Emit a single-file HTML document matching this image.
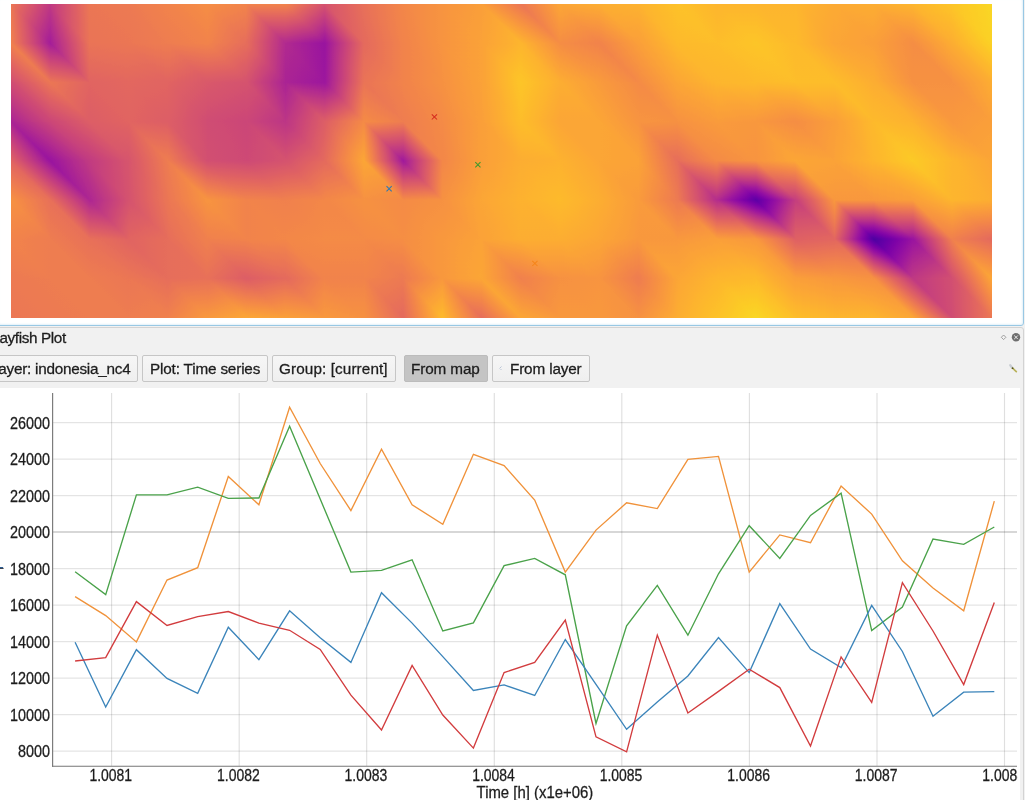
<!DOCTYPE html>
<html><head><meta charset="utf-8"><title>Crayfish Plot</title>
<style>
html,body{margin:0;padding:0;}
body{width:1025px;height:800px;overflow:hidden;background:#f1f1f1;font-family:"Liberation Sans",sans-serif;color:#1c1c1c;position:relative;}
#map{position:absolute;left:-3px;top:-3px;width:1025px;height:327px;background:#fff;border:1px solid #98c8e4;border-radius:3px;box-shadow:inset 0 0 2px 1px #e3f1f9;}
#heat{position:absolute;left:11px;top:4px;width:981px;height:314px;overflow:hidden;}
#dock{position:absolute;left:-3px;top:327px;width:1027px;height:480px;border:1px solid #d3d3d3;border-radius:3px;box-sizing:border-box;}
.tx{position:absolute;-webkit-text-stroke:0.28px #1c1c1c;font-size:15.3px;line-height:20px;white-space:nowrap;will-change:transform;}
.btn{position:absolute;top:355px;height:27px;box-sizing:border-box;border:1px solid #c6c6c6;border-radius:2px;background:linear-gradient(#f6f6f6,#efefef);}
.btn.on{background:#c4c4c4;border-color:#bcbcbc;}
#plot{position:absolute;left:0;top:388px;width:1020px;height:412px;background:#fff;}
svg{position:absolute;left:0;top:0;}
#ov{will-change:transform;}
.tl{font-size:16.1px;fill:#1c1c1c;stroke:#1c1c1c;stroke-width:0.28px;}
</style></head><body>
<div id="map"></div>
<div id="heat"><svg width="981" height="314" viewBox="0 0 981 314">
<defs><filter id="pl" x="0" y="0" width="1" height="1" color-interpolation-filters="sRGB"><feComponentTransfer><feFuncR type="table" tableValues="0.0510 0.1529 0.2549 0.3373 0.4157 0.4941 0.5608 0.6275 0.6941 0.7490 0.8000 0.8431 0.8824 0.9176 0.9490 0.9725 0.9882 0.9961 0.9882 0.9686 0.9412"/><feFuncG type="table" tableValues="0.0314 0.0196 0.0157 0.0039 0.0000 0.0118 0.0510 0.1020 0.1647 0.2235 0.2784 0.3373 0.3922 0.4549 0.5176 0.5843 0.6510 0.7294 0.8078 0.8863 0.9765"/><feFuncB type="table" tableValues="0.5294 0.5804 0.6157 0.6431 0.6588 0.6588 0.6431 0.6118 0.5647 0.5176 0.4706 0.4275 0.3843 0.3412 0.2941 0.2510 0.2118 0.1725 0.1451 0.1451 0.1294"/></feComponentTransfer></filter><linearGradient id="t0" gradientUnits="userSpaceOnUse" x1="39.22" y1="39.19" x2="-8.10" y2="18.89"><stop offset="0" stop-color="#5c5c5c"/><stop offset="1" stop-color="#a8a8a8"/></linearGradient><linearGradient id="t1" gradientUnits="userSpaceOnUse" x1="39.22" y1="39.19" x2="0.32" y2="42.73"><stop offset="0" stop-color="#5c5c5c"/><stop offset="1" stop-color="#b0b0b0"/></linearGradient><linearGradient id="t2" gradientUnits="userSpaceOnUse" x1="39.22" y1="0.00" x2="78.35" y2="-1.86"><stop offset="0" stop-color="#737373"/><stop offset="1" stop-color="#a8a8a8"/></linearGradient><linearGradient id="t3" gradientUnits="userSpaceOnUse" x1="39.22" y1="39.19" x2="74.99" y2="28.08"><stop offset="0" stop-color="#5c5c5c"/><stop offset="1" stop-color="#a6a6a6"/></linearGradient><linearGradient id="t4" gradientUnits="userSpaceOnUse" x1="78.44" y1="0.00" x2="98.03" y2="-19.61"><stop offset="0" stop-color="#a8a8a8"/><stop offset="1" stop-color="#ababab"/></linearGradient><linearGradient id="t5" gradientUnits="userSpaceOnUse" x1="78.44" y1="39.19" x2="98.03" y2="19.58"><stop offset="0" stop-color="#a6a6a6"/><stop offset="1" stop-color="#a8a8a8"/></linearGradient><linearGradient id="t6" gradientUnits="userSpaceOnUse" x1="117.66" y1="0.00" x2="144.80" y2="-18.11"><stop offset="0" stop-color="#ababab"/><stop offset="1" stop-color="#b2b2b2"/></linearGradient><linearGradient id="t7" gradientUnits="userSpaceOnUse" x1="117.66" y1="39.19" x2="149.03" y2="23.49"><stop offset="0" stop-color="#a8a8a8"/><stop offset="1" stop-color="#adadad"/></linearGradient><linearGradient id="t8" gradientUnits="userSpaceOnUse" x1="156.88" y1="0.00" x2="176.47" y2="-19.61"><stop offset="0" stop-color="#b2b2b2"/><stop offset="1" stop-color="#bababa"/></linearGradient><linearGradient id="t9" gradientUnits="userSpaceOnUse" x1="156.88" y1="39.19" x2="176.47" y2="19.58"><stop offset="0" stop-color="#adadad"/><stop offset="1" stop-color="#b2b2b2"/></linearGradient><linearGradient id="t10" gradientUnits="userSpaceOnUse" x1="235.32" y1="39.19" x2="215.06" y2="-8.12"><stop offset="0" stop-color="#a1a1a1"/><stop offset="1" stop-color="#bababa"/></linearGradient><linearGradient id="t11" gradientUnits="userSpaceOnUse" x1="235.32" y1="39.19" x2="188.00" y2="18.89"><stop offset="0" stop-color="#a1a1a1"/><stop offset="1" stop-color="#bababa"/></linearGradient><linearGradient id="t12" gradientUnits="userSpaceOnUse" x1="274.54" y1="39.19" x2="274.54" y2="0.00"><stop offset="0" stop-color="#666666"/><stop offset="1" stop-color="#b2b2b2"/></linearGradient><linearGradient id="t13" gradientUnits="userSpaceOnUse" x1="274.54" y1="39.19" x2="227.73" y2="24.93"><stop offset="0" stop-color="#666666"/><stop offset="1" stop-color="#b2b2b2"/></linearGradient><linearGradient id="t14" gradientUnits="userSpaceOnUse" x1="313.76" y1="39.19" x2="280.48" y2="-4.52"><stop offset="0" stop-color="#545454"/><stop offset="1" stop-color="#b2b2b2"/></linearGradient><linearGradient id="t15" gradientUnits="userSpaceOnUse" x1="313.76" y1="39.19" x2="303.07" y2="-6.65"><stop offset="0" stop-color="#545454"/><stop offset="1" stop-color="#b2b2b2"/></linearGradient><linearGradient id="t16" gradientUnits="userSpaceOnUse" x1="313.76" y1="0.00" x2="351.47" y2="-7.55"><stop offset="0" stop-color="#8a8a8a"/><stop offset="1" stop-color="#a3a3a3"/></linearGradient><linearGradient id="t17" gradientUnits="userSpaceOnUse" x1="313.76" y1="39.19" x2="339.47" y2="20.55"><stop offset="0" stop-color="#545454"/><stop offset="1" stop-color="#9e9e9e"/></linearGradient><linearGradient id="t18" gradientUnits="userSpaceOnUse" x1="352.98" y1="0.00" x2="391.41" y2="-5.50"><stop offset="0" stop-color="#a3a3a3"/><stop offset="1" stop-color="#b5b5b5"/></linearGradient><linearGradient id="t19" gradientUnits="userSpaceOnUse" x1="352.98" y1="39.19" x2="389.89" y2="29.95"><stop offset="0" stop-color="#9e9e9e"/><stop offset="1" stop-color="#b2b2b2"/></linearGradient><linearGradient id="t20" gradientUnits="userSpaceOnUse" x1="392.20" y1="0.00" x2="431.42" y2="0.00"><stop offset="0" stop-color="#b5b5b5"/><stop offset="1" stop-color="#bfbfbf"/></linearGradient><linearGradient id="t21" gradientUnits="userSpaceOnUse" x1="392.20" y1="39.19" x2="429.91" y2="31.64"><stop offset="0" stop-color="#b2b2b2"/><stop offset="1" stop-color="#bfbfbf"/></linearGradient><linearGradient id="t22" gradientUnits="userSpaceOnUse" x1="431.42" y1="0.00" x2="478.48" y2="15.70"><stop offset="0" stop-color="#bfbfbf"/><stop offset="1" stop-color="#c9c9c9"/></linearGradient><linearGradient id="t23" gradientUnits="userSpaceOnUse" x1="431.42" y1="0.00" x2="470.64" y2="0.00"><stop offset="0" stop-color="#bfbfbf"/><stop offset="1" stop-color="#c9c9c9"/></linearGradient><linearGradient id="t24" gradientUnits="userSpaceOnUse" x1="509.86" y1="0.00" x2="491.78" y2="27.14"><stop offset="0" stop-color="#a8a8a8"/><stop offset="1" stop-color="#d6d6d6"/></linearGradient><linearGradient id="t25" gradientUnits="userSpaceOnUse" x1="470.64" y1="0.00" x2="515.89" y2="9.06"><stop offset="0" stop-color="#c7c7c7"/><stop offset="1" stop-color="#d6d6d6"/></linearGradient><linearGradient id="t26" gradientUnits="userSpaceOnUse" x1="509.86" y1="0.00" x2="541.23" y2="-15.70"><stop offset="0" stop-color="#a8a8a8"/><stop offset="1" stop-color="#cccccc"/></linearGradient><linearGradient id="t27" gradientUnits="userSpaceOnUse" x1="509.86" y1="0.00" x2="492.43" y2="28.54"><stop offset="0" stop-color="#a8a8a8"/><stop offset="1" stop-color="#d6d6d6"/></linearGradient><linearGradient id="t28" gradientUnits="userSpaceOnUse" x1="588.30" y1="39.19" x2="594.65" y2="1.06"><stop offset="0" stop-color="#b2b2b2"/><stop offset="1" stop-color="#d1d1d1"/></linearGradient><linearGradient id="t29" gradientUnits="userSpaceOnUse" x1="588.30" y1="39.19" x2="568.04" y2="-8.12"><stop offset="0" stop-color="#b2b2b2"/><stop offset="1" stop-color="#cccccc"/></linearGradient><linearGradient id="t30" gradientUnits="userSpaceOnUse" x1="627.52" y1="39.19" x2="635.05" y2="1.50"><stop offset="0" stop-color="#c7c7c7"/><stop offset="1" stop-color="#d4d4d4"/></linearGradient><linearGradient id="t31" gradientUnits="userSpaceOnUse" x1="588.30" y1="39.19" x2="606.38" y2="12.04"><stop offset="0" stop-color="#b2b2b2"/><stop offset="1" stop-color="#d1d1d1"/></linearGradient><linearGradient id="t32" gradientUnits="userSpaceOnUse" x1="627.52" y1="0.00" x2="658.89" y2="-15.70"><stop offset="0" stop-color="#d4d4d4"/><stop offset="1" stop-color="#dedede"/></linearGradient><linearGradient id="t33" gradientUnits="userSpaceOnUse" x1="627.52" y1="39.19" x2="653.48" y2="20.63"><stop offset="0" stop-color="#c7c7c7"/><stop offset="1" stop-color="#d9d9d9"/></linearGradient><linearGradient id="t34" gradientUnits="userSpaceOnUse" x1="705.96" y1="0.00" x2="678.82" y2="18.11"><stop offset="0" stop-color="#d6d6d6"/><stop offset="1" stop-color="#dedede"/></linearGradient><linearGradient id="t35" gradientUnits="userSpaceOnUse" x1="666.74" y1="39.19" x2="682.41" y2="7.83"><stop offset="0" stop-color="#d9d9d9"/><stop offset="1" stop-color="#dedede"/></linearGradient><linearGradient id="t36" gradientUnits="userSpaceOnUse" x1="705.96" y1="0.00" x2="705.96" y2="39.19"><stop offset="0" stop-color="#d6d6d6"/><stop offset="1" stop-color="#e0e0e0"/></linearGradient><linearGradient id="t37" gradientUnits="userSpaceOnUse" x1="705.96" y1="0.00" x2="745.15" y2="39.22"><stop offset="0" stop-color="#d6d6d6"/><stop offset="1" stop-color="#e0e0e0"/></linearGradient><linearGradient id="t38" gradientUnits="userSpaceOnUse" x1="745.18" y1="0.00" x2="745.18" y2="39.19"><stop offset="0" stop-color="#d6d6d6"/><stop offset="1" stop-color="#d9d9d9"/></linearGradient><linearGradient id="t39" gradientUnits="userSpaceOnUse" x1="745.18" y1="0.00" x2="726.37" y2="25.09"><stop offset="0" stop-color="#d6d6d6"/><stop offset="1" stop-color="#e0e0e0"/></linearGradient><linearGradient id="t40" gradientUnits="userSpaceOnUse" x1="823.62" y1="39.19" x2="776.56" y2="23.49"><stop offset="0" stop-color="#cccccc"/><stop offset="1" stop-color="#d6d6d6"/></linearGradient><linearGradient id="t41" gradientUnits="userSpaceOnUse" x1="823.62" y1="39.19" x2="785.91" y2="46.74"><stop offset="0" stop-color="#cccccc"/><stop offset="1" stop-color="#d9d9d9"/></linearGradient><linearGradient id="t42" gradientUnits="userSpaceOnUse" x1="862.84" y1="39.19" x2="872.05" y2="2.30"><stop offset="0" stop-color="#c7c7c7"/><stop offset="1" stop-color="#d1d1d1"/></linearGradient><linearGradient id="t43" gradientUnits="userSpaceOnUse" x1="862.84" y1="39.19" x2="815.79" y2="15.64"><stop offset="0" stop-color="#c7c7c7"/><stop offset="1" stop-color="#cfcfcf"/></linearGradient><linearGradient id="t44" gradientUnits="userSpaceOnUse" x1="902.06" y1="39.19" x2="908.95" y2="1.25"><stop offset="0" stop-color="#bababa"/><stop offset="1" stop-color="#d6d6d6"/></linearGradient><linearGradient id="t45" gradientUnits="userSpaceOnUse" x1="902.06" y1="39.19" x2="859.04" y2="4.74"><stop offset="0" stop-color="#bababa"/><stop offset="1" stop-color="#d1d1d1"/></linearGradient><linearGradient id="t46" gradientUnits="userSpaceOnUse" x1="941.28" y1="39.19" x2="959.36" y2="12.04"><stop offset="0" stop-color="#d1d1d1"/><stop offset="1" stop-color="#e0e0e0"/></linearGradient><linearGradient id="t47" gradientUnits="userSpaceOnUse" x1="902.06" y1="39.19" x2="921.26" y2="15.70"><stop offset="0" stop-color="#bababa"/><stop offset="1" stop-color="#d6d6d6"/></linearGradient><linearGradient id="t48" gradientUnits="userSpaceOnUse" x1="941.28" y1="0.00" x2="978.19" y2="-9.23"><stop offset="0" stop-color="#e0e0e0"/><stop offset="1" stop-color="#ebebeb"/></linearGradient><linearGradient id="t49" gradientUnits="userSpaceOnUse" x1="941.28" y1="39.19" x2="968.42" y2="21.08"><stop offset="0" stop-color="#d1d1d1"/><stop offset="1" stop-color="#e8e8e8"/></linearGradient><linearGradient id="t50" gradientUnits="userSpaceOnUse" x1="39.22" y1="39.19" x2="17.76" y2="58.71"><stop offset="0" stop-color="#5c5c5c"/><stop offset="1" stop-color="#b0b0b0"/></linearGradient><linearGradient id="t51" gradientUnits="userSpaceOnUse" x1="0.00" y1="78.38" x2="19.23" y2="55.01"><stop offset="0" stop-color="#858585"/><stop offset="1" stop-color="#b0b0b0"/></linearGradient><linearGradient id="t52" gradientUnits="userSpaceOnUse" x1="39.22" y1="39.19" x2="77.31" y2="32.62"><stop offset="0" stop-color="#5c5c5c"/><stop offset="1" stop-color="#a6a6a6"/></linearGradient><linearGradient id="t53" gradientUnits="userSpaceOnUse" x1="39.22" y1="39.19" x2="31.69" y2="76.87"><stop offset="0" stop-color="#5c5c5c"/><stop offset="1" stop-color="#a8a8a8"/></linearGradient><linearGradient id="t54" gradientUnits="userSpaceOnUse" x1="117.66" y1="78.38" x2="125.19" y2="40.69"><stop offset="0" stop-color="#9c9c9c"/><stop offset="1" stop-color="#a8a8a8"/></linearGradient><linearGradient id="t55" gradientUnits="userSpaceOnUse" x1="78.44" y1="78.38" x2="85.97" y2="40.69"><stop offset="0" stop-color="#999999"/><stop offset="1" stop-color="#a6a6a6"/></linearGradient><linearGradient id="t56" gradientUnits="userSpaceOnUse" x1="156.88" y1="78.38" x2="166.09" y2="41.49"><stop offset="0" stop-color="#999999"/><stop offset="1" stop-color="#adadad"/></linearGradient><linearGradient id="t57" gradientUnits="userSpaceOnUse" x1="156.88" y1="78.38" x2="147.84" y2="33.16"><stop offset="0" stop-color="#999999"/><stop offset="1" stop-color="#a8a8a8"/></linearGradient><linearGradient id="t58" gradientUnits="userSpaceOnUse" x1="196.10" y1="78.38" x2="201.58" y2="39.97"><stop offset="0" stop-color="#8f8f8f"/><stop offset="1" stop-color="#b2b2b2"/></linearGradient><linearGradient id="t59" gradientUnits="userSpaceOnUse" x1="196.10" y1="78.38" x2="172.60" y2="31.33"><stop offset="0" stop-color="#8f8f8f"/><stop offset="1" stop-color="#adadad"/></linearGradient><linearGradient id="t60" gradientUnits="userSpaceOnUse" x1="235.32" y1="78.38" x2="201.57" y2="34.94"><stop offset="0" stop-color="#8a8a8a"/><stop offset="1" stop-color="#b2b2b2"/></linearGradient><linearGradient id="t61" gradientUnits="userSpaceOnUse" x1="235.32" y1="78.38" x2="229.05" y2="34.48"><stop offset="0" stop-color="#8a8a8a"/><stop offset="1" stop-color="#b2b2b2"/></linearGradient><linearGradient id="t62" gradientUnits="userSpaceOnUse" x1="274.54" y1="78.38" x2="232.23" y2="74.69"><stop offset="0" stop-color="#616161"/><stop offset="1" stop-color="#a1a1a1"/></linearGradient><linearGradient id="t63" gradientUnits="userSpaceOnUse" x1="274.54" y1="78.38" x2="228.01" y2="52.18"><stop offset="0" stop-color="#616161"/><stop offset="1" stop-color="#a1a1a1"/></linearGradient><linearGradient id="t64" gradientUnits="userSpaceOnUse" x1="313.76" y1="39.19" x2="275.33" y2="44.68"><stop offset="0" stop-color="#545454"/><stop offset="1" stop-color="#666666"/></linearGradient><linearGradient id="t65" gradientUnits="userSpaceOnUse" x1="313.76" y1="78.38" x2="266.71" y2="54.83"><stop offset="0" stop-color="#575757"/><stop offset="1" stop-color="#666666"/></linearGradient><linearGradient id="t66" gradientUnits="userSpaceOnUse" x1="313.76" y1="39.19" x2="356.58" y2="43.62"><stop offset="0" stop-color="#545454"/><stop offset="1" stop-color="#a6a6a6"/></linearGradient><linearGradient id="t67" gradientUnits="userSpaceOnUse" x1="313.76" y1="39.19" x2="354.20" y2="40.49"><stop offset="0" stop-color="#545454"/><stop offset="1" stop-color="#a6a6a6"/></linearGradient><linearGradient id="t68" gradientUnits="userSpaceOnUse" x1="352.98" y1="39.19" x2="392.20" y2="39.19"><stop offset="0" stop-color="#9e9e9e"/><stop offset="1" stop-color="#b2b2b2"/></linearGradient><linearGradient id="t69" gradientUnits="userSpaceOnUse" x1="352.98" y1="39.19" x2="399.10" y2="66.88"><stop offset="0" stop-color="#9e9e9e"/><stop offset="1" stop-color="#b2b2b2"/></linearGradient><linearGradient id="t70" gradientUnits="userSpaceOnUse" x1="392.20" y1="39.19" x2="429.91" y2="31.64"><stop offset="0" stop-color="#b2b2b2"/><stop offset="1" stop-color="#bfbfbf"/></linearGradient><linearGradient id="t71" gradientUnits="userSpaceOnUse" x1="392.20" y1="39.19" x2="431.42" y2="39.19"><stop offset="0" stop-color="#b2b2b2"/><stop offset="1" stop-color="#bdbdbd"/></linearGradient><linearGradient id="t72" gradientUnits="userSpaceOnUse" x1="431.42" y1="39.19" x2="470.64" y2="39.19"><stop offset="0" stop-color="#bfbfbf"/><stop offset="1" stop-color="#c9c9c9"/></linearGradient><linearGradient id="t73" gradientUnits="userSpaceOnUse" x1="431.42" y1="78.38" x2="469.13" y2="70.83"><stop offset="0" stop-color="#bdbdbd"/><stop offset="1" stop-color="#c9c9c9"/></linearGradient><linearGradient id="t74" gradientUnits="userSpaceOnUse" x1="470.64" y1="39.19" x2="513.66" y2="73.63"><stop offset="0" stop-color="#c9c9c9"/><stop offset="1" stop-color="#e0e0e0"/></linearGradient><linearGradient id="t75" gradientUnits="userSpaceOnUse" x1="470.64" y1="39.19" x2="509.86" y2="39.19"><stop offset="0" stop-color="#c9c9c9"/><stop offset="1" stop-color="#e0e0e0"/></linearGradient><linearGradient id="t76" gradientUnits="userSpaceOnUse" x1="549.08" y1="39.19" x2="525.60" y2="58.41"><stop offset="0" stop-color="#bababa"/><stop offset="1" stop-color="#d6d6d6"/></linearGradient><linearGradient id="t77" gradientUnits="userSpaceOnUse" x1="549.08" y1="78.38" x2="521.94" y2="96.48"><stop offset="0" stop-color="#d1d1d1"/><stop offset="1" stop-color="#e0e0e0"/></linearGradient><linearGradient id="t78" gradientUnits="userSpaceOnUse" x1="588.30" y1="39.19" x2="574.12" y2="72.30"><stop offset="0" stop-color="#b2b2b2"/><stop offset="1" stop-color="#c4c4c4"/></linearGradient><linearGradient id="t79" gradientUnits="userSpaceOnUse" x1="549.08" y1="39.19" x2="532.45" y2="69.14"><stop offset="0" stop-color="#bababa"/><stop offset="1" stop-color="#d1d1d1"/></linearGradient><linearGradient id="t80" gradientUnits="userSpaceOnUse" x1="588.30" y1="39.19" x2="613.39" y2="20.36"><stop offset="0" stop-color="#b2b2b2"/><stop offset="1" stop-color="#c7c7c7"/></linearGradient><linearGradient id="t81" gradientUnits="userSpaceOnUse" x1="588.30" y1="39.19" x2="569.77" y2="65.15"><stop offset="0" stop-color="#b2b2b2"/><stop offset="1" stop-color="#c4c4c4"/></linearGradient><linearGradient id="t82" gradientUnits="userSpaceOnUse" x1="627.52" y1="39.19" x2="653.48" y2="20.63"><stop offset="0" stop-color="#c7c7c7"/><stop offset="1" stop-color="#d9d9d9"/></linearGradient><linearGradient id="t83" gradientUnits="userSpaceOnUse" x1="627.52" y1="78.38" x2="652.61" y2="59.55"><stop offset="0" stop-color="#b8b8b8"/><stop offset="1" stop-color="#cccccc"/></linearGradient><linearGradient id="t84" gradientUnits="userSpaceOnUse" x1="705.96" y1="78.38" x2="721.63" y2="47.01"><stop offset="0" stop-color="#d6d6d6"/><stop offset="1" stop-color="#dbdbdb"/></linearGradient><linearGradient id="t85" gradientUnits="userSpaceOnUse" x1="666.74" y1="78.38" x2="685.85" y2="54.46"><stop offset="0" stop-color="#cccccc"/><stop offset="1" stop-color="#d9d9d9"/></linearGradient><linearGradient id="t86" gradientUnits="userSpaceOnUse" x1="745.18" y1="78.38" x2="763.26" y2="51.23"><stop offset="0" stop-color="#d9d9d9"/><stop offset="1" stop-color="#e0e0e0"/></linearGradient><linearGradient id="t87" gradientUnits="userSpaceOnUse" x1="705.96" y1="78.38" x2="721.63" y2="47.01"><stop offset="0" stop-color="#d6d6d6"/><stop offset="1" stop-color="#dbdbdb"/></linearGradient><linearGradient id="t88" gradientUnits="userSpaceOnUse" x1="784.40" y1="39.19" x2="749.11" y2="50.96"><stop offset="0" stop-color="#d9d9d9"/><stop offset="1" stop-color="#e0e0e0"/></linearGradient><linearGradient id="t89" gradientUnits="userSpaceOnUse" x1="745.18" y1="78.38" x2="756.93" y2="43.10"><stop offset="0" stop-color="#d9d9d9"/><stop offset="1" stop-color="#e0e0e0"/></linearGradient><linearGradient id="t90" gradientUnits="userSpaceOnUse" x1="823.62" y1="39.19" x2="804.35" y2="62.33"><stop offset="0" stop-color="#cccccc"/><stop offset="1" stop-color="#dbdbdb"/></linearGradient><linearGradient id="t91" gradientUnits="userSpaceOnUse" x1="784.40" y1="39.19" x2="784.40" y2="78.38"><stop offset="0" stop-color="#d9d9d9"/><stop offset="1" stop-color="#dbdbdb"/></linearGradient><linearGradient id="t92" gradientUnits="userSpaceOnUse" x1="862.84" y1="39.19" x2="847.17" y2="70.55"><stop offset="0" stop-color="#c7c7c7"/><stop offset="1" stop-color="#d1d1d1"/></linearGradient><linearGradient id="t93" gradientUnits="userSpaceOnUse" x1="823.62" y1="39.19" x2="805.54" y2="66.33"><stop offset="0" stop-color="#cccccc"/><stop offset="1" stop-color="#dbdbdb"/></linearGradient><linearGradient id="t94" gradientUnits="userSpaceOnUse" x1="902.06" y1="39.19" x2="864.35" y2="46.74"><stop offset="0" stop-color="#bababa"/><stop offset="1" stop-color="#c7c7c7"/></linearGradient><linearGradient id="t95" gradientUnits="userSpaceOnUse" x1="902.06" y1="78.38" x2="870.69" y2="94.07"><stop offset="0" stop-color="#bdbdbd"/><stop offset="1" stop-color="#d1d1d1"/></linearGradient><linearGradient id="t96" gradientUnits="userSpaceOnUse" x1="902.06" y1="39.19" x2="923.95" y2="19.71"><stop offset="0" stop-color="#bababa"/><stop offset="1" stop-color="#d1d1d1"/></linearGradient><linearGradient id="t97" gradientUnits="userSpaceOnUse" x1="902.06" y1="39.19" x2="902.06" y2="78.38"><stop offset="0" stop-color="#bababa"/><stop offset="1" stop-color="#bdbdbd"/></linearGradient><linearGradient id="t98" gradientUnits="userSpaceOnUse" x1="941.28" y1="39.19" x2="960.87" y2="19.58"><stop offset="0" stop-color="#d1d1d1"/><stop offset="1" stop-color="#e8e8e8"/></linearGradient><linearGradient id="t99" gradientUnits="userSpaceOnUse" x1="941.28" y1="78.38" x2="960.87" y2="58.77"><stop offset="0" stop-color="#bdbdbd"/><stop offset="1" stop-color="#d1d1d1"/></linearGradient><linearGradient id="t100" gradientUnits="userSpaceOnUse" x1="39.22" y1="117.56" x2="58.64" y2="95.35"><stop offset="0" stop-color="#7f7f7f"/><stop offset="1" stop-color="#a8a8a8"/></linearGradient><linearGradient id="t101" gradientUnits="userSpaceOnUse" x1="0.00" y1="117.56" x2="19.36" y2="94.96"><stop offset="0" stop-color="#616161"/><stop offset="1" stop-color="#858585"/></linearGradient><linearGradient id="t102" gradientUnits="userSpaceOnUse" x1="78.44" y1="117.56" x2="31.38" y2="101.86"><stop offset="0" stop-color="#949494"/><stop offset="1" stop-color="#a8a8a8"/></linearGradient><linearGradient id="t103" gradientUnits="userSpaceOnUse" x1="39.22" y1="117.56" x2="54.89" y2="86.20"><stop offset="0" stop-color="#7f7f7f"/><stop offset="1" stop-color="#a8a8a8"/></linearGradient><linearGradient id="t104" gradientUnits="userSpaceOnUse" x1="78.44" y1="78.38" x2="98.03" y2="58.77"><stop offset="0" stop-color="#999999"/><stop offset="1" stop-color="#9c9c9c"/></linearGradient><linearGradient id="t105" gradientUnits="userSpaceOnUse" x1="78.44" y1="117.56" x2="98.03" y2="97.95"><stop offset="0" stop-color="#949494"/><stop offset="1" stop-color="#999999"/></linearGradient><linearGradient id="t106" gradientUnits="userSpaceOnUse" x1="156.88" y1="117.56" x2="133.38" y2="70.52"><stop offset="0" stop-color="#949494"/><stop offset="1" stop-color="#9c9c9c"/></linearGradient><linearGradient id="t107" gradientUnits="userSpaceOnUse" x1="156.88" y1="117.56" x2="109.83" y2="94.02"><stop offset="0" stop-color="#949494"/><stop offset="1" stop-color="#9c9c9c"/></linearGradient><linearGradient id="t108" gradientUnits="userSpaceOnUse" x1="196.10" y1="117.56" x2="156.91" y2="78.34"><stop offset="0" stop-color="#858585"/><stop offset="1" stop-color="#999999"/></linearGradient><linearGradient id="t109" gradientUnits="userSpaceOnUse" x1="196.10" y1="117.56" x2="149.04" y2="101.86"><stop offset="0" stop-color="#858585"/><stop offset="1" stop-color="#999999"/></linearGradient><linearGradient id="t110" gradientUnits="userSpaceOnUse" x1="235.32" y1="117.56" x2="211.82" y2="70.52"><stop offset="0" stop-color="#7f7f7f"/><stop offset="1" stop-color="#8f8f8f"/></linearGradient><linearGradient id="t111" gradientUnits="userSpaceOnUse" x1="235.32" y1="117.56" x2="211.82" y2="70.52"><stop offset="0" stop-color="#7f7f7f"/><stop offset="1" stop-color="#8f8f8f"/></linearGradient><linearGradient id="t112" gradientUnits="userSpaceOnUse" x1="274.54" y1="78.38" x2="240.16" y2="91.28"><stop offset="0" stop-color="#616161"/><stop offset="1" stop-color="#8a8a8a"/></linearGradient><linearGradient id="t113" gradientUnits="userSpaceOnUse" x1="274.54" y1="117.56" x2="229.31" y2="87.38"><stop offset="0" stop-color="#707070"/><stop offset="1" stop-color="#8a8a8a"/></linearGradient><linearGradient id="t114" gradientUnits="userSpaceOnUse" x1="313.76" y1="78.38" x2="307.41" y2="116.51"><stop offset="0" stop-color="#575757"/><stop offset="1" stop-color="#949494"/></linearGradient><linearGradient id="t115" gradientUnits="userSpaceOnUse" x1="274.54" y1="78.38" x2="321.86" y2="98.67"><stop offset="0" stop-color="#616161"/><stop offset="1" stop-color="#949494"/></linearGradient><linearGradient id="t116" gradientUnits="userSpaceOnUse" x1="313.76" y1="78.38" x2="359.50" y2="88.71"><stop offset="0" stop-color="#575757"/><stop offset="1" stop-color="#b8b8b8"/></linearGradient><linearGradient id="t117" gradientUnits="userSpaceOnUse" x1="313.76" y1="78.38" x2="340.75" y2="124.69"><stop offset="0" stop-color="#575757"/><stop offset="1" stop-color="#b8b8b8"/></linearGradient><linearGradient id="t118" gradientUnits="userSpaceOnUse" x1="352.98" y1="78.38" x2="386.78" y2="64.84"><stop offset="0" stop-color="#a6a6a6"/><stop offset="1" stop-color="#b2b2b2"/></linearGradient><linearGradient id="t119" gradientUnits="userSpaceOnUse" x1="352.98" y1="78.38" x2="336.11" y2="107.93"><stop offset="0" stop-color="#a6a6a6"/><stop offset="1" stop-color="#b8b8b8"/></linearGradient><linearGradient id="t120" gradientUnits="userSpaceOnUse" x1="392.20" y1="78.38" x2="423.57" y2="62.68"><stop offset="0" stop-color="#b2b2b2"/><stop offset="1" stop-color="#bdbdbd"/></linearGradient><linearGradient id="t121" gradientUnits="userSpaceOnUse" x1="392.20" y1="117.56" x2="423.57" y2="101.87"><stop offset="0" stop-color="#adadad"/><stop offset="1" stop-color="#b8b8b8"/></linearGradient><linearGradient id="t122" gradientUnits="userSpaceOnUse" x1="431.42" y1="78.38" x2="469.13" y2="70.83"><stop offset="0" stop-color="#bdbdbd"/><stop offset="1" stop-color="#c9c9c9"/></linearGradient><linearGradient id="t123" gradientUnits="userSpaceOnUse" x1="431.42" y1="117.56" x2="466.71" y2="105.79"><stop offset="0" stop-color="#b8b8b8"/><stop offset="1" stop-color="#c7c7c7"/></linearGradient><linearGradient id="t124" gradientUnits="userSpaceOnUse" x1="470.64" y1="78.38" x2="508.01" y2="70.06"><stop offset="0" stop-color="#c9c9c9"/><stop offset="1" stop-color="#e0e0e0"/></linearGradient><linearGradient id="t125" gradientUnits="userSpaceOnUse" x1="470.64" y1="117.56" x2="509.26" y2="112.73"><stop offset="0" stop-color="#c7c7c7"/><stop offset="1" stop-color="#dbdbdb"/></linearGradient><linearGradient id="t126" gradientUnits="userSpaceOnUse" x1="549.08" y1="117.56" x2="502.02" y2="101.86"><stop offset="0" stop-color="#cccccc"/><stop offset="1" stop-color="#e0e0e0"/></linearGradient><linearGradient id="t127" gradientUnits="userSpaceOnUse" x1="549.08" y1="117.56" x2="502.02" y2="101.86"><stop offset="0" stop-color="#cccccc"/><stop offset="1" stop-color="#e0e0e0"/></linearGradient><linearGradient id="t128" gradientUnits="userSpaceOnUse" x1="588.30" y1="78.38" x2="559.47" y2="95.68"><stop offset="0" stop-color="#c4c4c4"/><stop offset="1" stop-color="#d1d1d1"/></linearGradient><linearGradient id="t129" gradientUnits="userSpaceOnUse" x1="549.08" y1="117.56" x2="549.08" y2="78.38"><stop offset="0" stop-color="#cccccc"/><stop offset="1" stop-color="#d1d1d1"/></linearGradient><linearGradient id="t130" gradientUnits="userSpaceOnUse" x1="627.52" y1="78.38" x2="598.69" y2="95.68"><stop offset="0" stop-color="#b8b8b8"/><stop offset="1" stop-color="#c4c4c4"/></linearGradient><linearGradient id="t131" gradientUnits="userSpaceOnUse" x1="627.52" y1="117.56" x2="598.69" y2="134.87"><stop offset="0" stop-color="#bfbfbf"/><stop offset="1" stop-color="#cccccc"/></linearGradient><linearGradient id="t132" gradientUnits="userSpaceOnUse" x1="627.52" y1="78.38" x2="652.61" y2="59.55"><stop offset="0" stop-color="#b8b8b8"/><stop offset="1" stop-color="#cccccc"/></linearGradient><linearGradient id="t133" gradientUnits="userSpaceOnUse" x1="627.52" y1="78.38" x2="615.77" y2="113.65"><stop offset="0" stop-color="#b8b8b8"/><stop offset="1" stop-color="#bfbfbf"/></linearGradient><linearGradient id="t134" gradientUnits="userSpaceOnUse" x1="705.96" y1="117.56" x2="722.83" y2="88.01"><stop offset="0" stop-color="#c4c4c4"/><stop offset="1" stop-color="#d6d6d6"/></linearGradient><linearGradient id="t135" gradientUnits="userSpaceOnUse" x1="666.74" y1="117.56" x2="682.41" y2="86.20"><stop offset="0" stop-color="#bdbdbd"/><stop offset="1" stop-color="#cccccc"/></linearGradient><linearGradient id="t136" gradientUnits="userSpaceOnUse" x1="745.18" y1="117.56" x2="749.48" y2="78.85"><stop offset="0" stop-color="#c2c2c2"/><stop offset="1" stop-color="#d9d9d9"/></linearGradient><linearGradient id="t137" gradientUnits="userSpaceOnUse" x1="745.18" y1="117.56" x2="738.91" y2="73.67"><stop offset="0" stop-color="#c2c2c2"/><stop offset="1" stop-color="#d6d6d6"/></linearGradient><linearGradient id="t138" gradientUnits="userSpaceOnUse" x1="784.40" y1="117.56" x2="787.39" y2="78.61"><stop offset="0" stop-color="#bababa"/><stop offset="1" stop-color="#dbdbdb"/></linearGradient><linearGradient id="t139" gradientUnits="userSpaceOnUse" x1="784.40" y1="117.56" x2="768.74" y2="70.53"><stop offset="0" stop-color="#bababa"/><stop offset="1" stop-color="#d9d9d9"/></linearGradient><linearGradient id="t140" gradientUnits="userSpaceOnUse" x1="823.62" y1="117.56" x2="823.62" y2="78.38"><stop offset="0" stop-color="#c7c7c7"/><stop offset="1" stop-color="#dbdbdb"/></linearGradient><linearGradient id="t141" gradientUnits="userSpaceOnUse" x1="784.40" y1="117.56" x2="797.52" y2="83.42"><stop offset="0" stop-color="#bababa"/><stop offset="1" stop-color="#dbdbdb"/></linearGradient><linearGradient id="t142" gradientUnits="userSpaceOnUse" x1="862.84" y1="78.38" x2="837.75" y2="97.20"><stop offset="0" stop-color="#d1d1d1"/><stop offset="1" stop-color="#dbdbdb"/></linearGradient><linearGradient id="t143" gradientUnits="userSpaceOnUse" x1="823.62" y1="117.56" x2="843.04" y2="95.35"><stop offset="0" stop-color="#c7c7c7"/><stop offset="1" stop-color="#dbdbdb"/></linearGradient><linearGradient id="t144" gradientUnits="userSpaceOnUse" x1="902.06" y1="78.38" x2="882.60" y2="100.28"><stop offset="0" stop-color="#bdbdbd"/><stop offset="1" stop-color="#d4d4d4"/></linearGradient><linearGradient id="t145" gradientUnits="userSpaceOnUse" x1="862.84" y1="78.38" x2="844.76" y2="105.52"><stop offset="0" stop-color="#d1d1d1"/><stop offset="1" stop-color="#d9d9d9"/></linearGradient><linearGradient id="t146" gradientUnits="userSpaceOnUse" x1="902.06" y1="78.38" x2="902.06" y2="117.56"><stop offset="0" stop-color="#bdbdbd"/><stop offset="1" stop-color="#c2c2c2"/></linearGradient><linearGradient id="t147" gradientUnits="userSpaceOnUse" x1="902.06" y1="78.38" x2="883.07" y2="102.81"><stop offset="0" stop-color="#bdbdbd"/><stop offset="1" stop-color="#d4d4d4"/></linearGradient><linearGradient id="t148" gradientUnits="userSpaceOnUse" x1="941.28" y1="78.38" x2="972.65" y2="62.68"><stop offset="0" stop-color="#bdbdbd"/><stop offset="1" stop-color="#d1d1d1"/></linearGradient><linearGradient id="t149" gradientUnits="userSpaceOnUse" x1="941.28" y1="78.38" x2="980.47" y2="117.59"><stop offset="0" stop-color="#bdbdbd"/><stop offset="1" stop-color="#c7c7c7"/></linearGradient><linearGradient id="t150" gradientUnits="userSpaceOnUse" x1="39.22" y1="156.75" x2="57.68" y2="130.58"><stop offset="0" stop-color="#545454"/><stop offset="1" stop-color="#7f7f7f"/></linearGradient><linearGradient id="t151" gradientUnits="userSpaceOnUse" x1="39.22" y1="156.75" x2="15.66" y2="175.96"><stop offset="0" stop-color="#545454"/><stop offset="1" stop-color="#999999"/></linearGradient><linearGradient id="t152" gradientUnits="userSpaceOnUse" x1="78.44" y1="156.75" x2="96.52" y2="129.61"><stop offset="0" stop-color="#757575"/><stop offset="1" stop-color="#949494"/></linearGradient><linearGradient id="t153" gradientUnits="userSpaceOnUse" x1="39.22" y1="156.75" x2="58.13" y2="132.01"><stop offset="0" stop-color="#545454"/><stop offset="1" stop-color="#7f7f7f"/></linearGradient><linearGradient id="t154" gradientUnits="userSpaceOnUse" x1="117.66" y1="156.75" x2="131.16" y2="122.96"><stop offset="0" stop-color="#8c8c8c"/><stop offset="1" stop-color="#999999"/></linearGradient><linearGradient id="t155" gradientUnits="userSpaceOnUse" x1="78.44" y1="156.75" x2="97.25" y2="131.66"><stop offset="0" stop-color="#757575"/><stop offset="1" stop-color="#949494"/></linearGradient><linearGradient id="t156" gradientUnits="userSpaceOnUse" x1="156.88" y1="117.56" x2="149.35" y2="155.25"><stop offset="0" stop-color="#949494"/><stop offset="1" stop-color="#adadad"/></linearGradient><linearGradient id="t157" gradientUnits="userSpaceOnUse" x1="117.66" y1="156.75" x2="151.82" y2="143.60"><stop offset="0" stop-color="#8c8c8c"/><stop offset="1" stop-color="#adadad"/></linearGradient><linearGradient id="t158" gradientUnits="userSpaceOnUse" x1="196.10" y1="117.56" x2="157.94" y2="123.93"><stop offset="0" stop-color="#858585"/><stop offset="1" stop-color="#949494"/></linearGradient><linearGradient id="t159" gradientUnits="userSpaceOnUse" x1="196.10" y1="156.75" x2="168.96" y2="174.86"><stop offset="0" stop-color="#878787"/><stop offset="1" stop-color="#adadad"/></linearGradient><linearGradient id="t160" gradientUnits="userSpaceOnUse" x1="235.32" y1="117.56" x2="203.95" y2="133.26"><stop offset="0" stop-color="#7f7f7f"/><stop offset="1" stop-color="#858585"/></linearGradient><linearGradient id="t161" gradientUnits="userSpaceOnUse" x1="235.32" y1="156.75" x2="203.95" y2="172.45"><stop offset="0" stop-color="#828282"/><stop offset="1" stop-color="#878787"/></linearGradient><linearGradient id="t162" gradientUnits="userSpaceOnUse" x1="274.54" y1="117.56" x2="257.26" y2="146.39"><stop offset="0" stop-color="#707070"/><stop offset="1" stop-color="#8a8a8a"/></linearGradient><linearGradient id="t163" gradientUnits="userSpaceOnUse" x1="235.32" y1="117.56" x2="282.38" y2="133.26"><stop offset="0" stop-color="#7f7f7f"/><stop offset="1" stop-color="#8a8a8a"/></linearGradient><linearGradient id="t164" gradientUnits="userSpaceOnUse" x1="274.54" y1="117.56" x2="321.15" y2="130.89"><stop offset="0" stop-color="#707070"/><stop offset="1" stop-color="#9e9e9e"/></linearGradient><linearGradient id="t165" gradientUnits="userSpaceOnUse" x1="274.54" y1="117.56" x2="308.94" y2="160.60"><stop offset="0" stop-color="#707070"/><stop offset="1" stop-color="#9e9e9e"/></linearGradient><linearGradient id="t166" gradientUnits="userSpaceOnUse" x1="313.76" y1="117.56" x2="360.20" y2="144.12"><stop offset="0" stop-color="#949494"/><stop offset="1" stop-color="#cccccc"/></linearGradient><linearGradient id="t167" gradientUnits="userSpaceOnUse" x1="313.76" y1="117.56" x2="359.44" y2="127.72"><stop offset="0" stop-color="#949494"/><stop offset="1" stop-color="#cccccc"/></linearGradient><linearGradient id="t168" gradientUnits="userSpaceOnUse" x1="392.20" y1="156.75" x2="386.96" y2="113.45"><stop offset="0" stop-color="#595959"/><stop offset="1" stop-color="#b8b8b8"/></linearGradient><linearGradient id="t169" gradientUnits="userSpaceOnUse" x1="392.20" y1="156.75" x2="354.18" y2="163.51"><stop offset="0" stop-color="#595959"/><stop offset="1" stop-color="#cccccc"/></linearGradient><linearGradient id="t170" gradientUnits="userSpaceOnUse" x1="392.20" y1="117.56" x2="429.11" y2="108.33"><stop offset="0" stop-color="#adadad"/><stop offset="1" stop-color="#b8b8b8"/></linearGradient><linearGradient id="t171" gradientUnits="userSpaceOnUse" x1="392.20" y1="156.75" x2="413.50" y2="137.21"><stop offset="0" stop-color="#595959"/><stop offset="1" stop-color="#b5b5b5"/></linearGradient><linearGradient id="t172" gradientUnits="userSpaceOnUse" x1="431.42" y1="117.56" x2="470.64" y2="117.56"><stop offset="0" stop-color="#b8b8b8"/><stop offset="1" stop-color="#c7c7c7"/></linearGradient><linearGradient id="t173" gradientUnits="userSpaceOnUse" x1="431.42" y1="156.75" x2="469.85" y2="151.25"><stop offset="0" stop-color="#b5b5b5"/><stop offset="1" stop-color="#c7c7c7"/></linearGradient><linearGradient id="t174" gradientUnits="userSpaceOnUse" x1="470.64" y1="117.56" x2="502.01" y2="101.87"><stop offset="0" stop-color="#c7c7c7"/><stop offset="1" stop-color="#dbdbdb"/></linearGradient><linearGradient id="t175" gradientUnits="userSpaceOnUse" x1="470.64" y1="117.56" x2="509.86" y2="117.56"><stop offset="0" stop-color="#c7c7c7"/><stop offset="1" stop-color="#d1d1d1"/></linearGradient><linearGradient id="t176" gradientUnits="userSpaceOnUse" x1="549.08" y1="117.56" x2="517.71" y2="133.26"><stop offset="0" stop-color="#cccccc"/><stop offset="1" stop-color="#dbdbdb"/></linearGradient><linearGradient id="t177" gradientUnits="userSpaceOnUse" x1="509.86" y1="156.75" x2="519.07" y2="119.86"><stop offset="0" stop-color="#d1d1d1"/><stop offset="1" stop-color="#dbdbdb"/></linearGradient><linearGradient id="t179" gradientUnits="userSpaceOnUse" x1="549.08" y1="117.56" x2="529.49" y2="137.17"><stop offset="0" stop-color="#cccccc"/><stop offset="1" stop-color="#d4d4d4"/></linearGradient><linearGradient id="t180" gradientUnits="userSpaceOnUse" x1="627.52" y1="117.56" x2="603.62" y2="136.70"><stop offset="0" stop-color="#bfbfbf"/><stop offset="1" stop-color="#cccccc"/></linearGradient><linearGradient id="t181" gradientUnits="userSpaceOnUse" x1="627.52" y1="156.75" x2="588.30" y2="156.75"><stop offset="0" stop-color="#c9c9c9"/><stop offset="1" stop-color="#cccccc"/></linearGradient><linearGradient id="t182" gradientUnits="userSpaceOnUse" x1="666.74" y1="156.75" x2="662.89" y2="114.35"><stop offset="0" stop-color="#a1a1a1"/><stop offset="1" stop-color="#bfbfbf"/></linearGradient><linearGradient id="t183" gradientUnits="userSpaceOnUse" x1="666.74" y1="156.75" x2="629.83" y2="165.98"><stop offset="0" stop-color="#a1a1a1"/><stop offset="1" stop-color="#c9c9c9"/></linearGradient><linearGradient id="t184" gradientUnits="userSpaceOnUse" x1="705.96" y1="156.75" x2="723.24" y2="127.92"><stop offset="0" stop-color="#b8b8b8"/><stop offset="1" stop-color="#c4c4c4"/></linearGradient><linearGradient id="t185" gradientUnits="userSpaceOnUse" x1="666.74" y1="156.75" x2="685.94" y2="133.26"><stop offset="0" stop-color="#a1a1a1"/><stop offset="1" stop-color="#bdbdbd"/></linearGradient><linearGradient id="t186" gradientUnits="userSpaceOnUse" x1="745.18" y1="156.75" x2="705.99" y2="117.53"><stop offset="0" stop-color="#bfbfbf"/><stop offset="1" stop-color="#c4c4c4"/></linearGradient><linearGradient id="t187" gradientUnits="userSpaceOnUse" x1="705.96" y1="156.75" x2="723.24" y2="127.92"><stop offset="0" stop-color="#b8b8b8"/><stop offset="1" stop-color="#c4c4c4"/></linearGradient><linearGradient id="t188" gradientUnits="userSpaceOnUse" x1="784.40" y1="117.56" x2="770.22" y2="150.68"><stop offset="0" stop-color="#bababa"/><stop offset="1" stop-color="#cccccc"/></linearGradient><linearGradient id="t189" gradientUnits="userSpaceOnUse" x1="745.18" y1="156.75" x2="782.89" y2="149.20"><stop offset="0" stop-color="#bfbfbf"/><stop offset="1" stop-color="#cccccc"/></linearGradient><linearGradient id="t190" gradientUnits="userSpaceOnUse" x1="784.40" y1="117.56" x2="829.65" y2="126.62"><stop offset="0" stop-color="#bababa"/><stop offset="1" stop-color="#c9c9c9"/></linearGradient><linearGradient id="t191" gradientUnits="userSpaceOnUse" x1="784.40" y1="117.56" x2="778.92" y2="155.97"><stop offset="0" stop-color="#bababa"/><stop offset="1" stop-color="#cccccc"/></linearGradient><linearGradient id="t192" gradientUnits="userSpaceOnUse" x1="823.62" y1="117.56" x2="862.05" y2="112.07"><stop offset="0" stop-color="#c7c7c7"/><stop offset="1" stop-color="#d9d9d9"/></linearGradient><linearGradient id="t193" gradientUnits="userSpaceOnUse" x1="823.62" y1="117.56" x2="868.87" y2="126.62"><stop offset="0" stop-color="#c7c7c7"/><stop offset="1" stop-color="#d6d6d6"/></linearGradient><linearGradient id="t194" gradientUnits="userSpaceOnUse" x1="902.06" y1="117.56" x2="890.31" y2="152.84"><stop offset="0" stop-color="#d4d4d4"/><stop offset="1" stop-color="#e3e3e3"/></linearGradient><linearGradient id="t195" gradientUnits="userSpaceOnUse" x1="862.84" y1="156.75" x2="900.55" y2="149.20"><stop offset="0" stop-color="#d6d6d6"/><stop offset="1" stop-color="#e3e3e3"/></linearGradient><linearGradient id="t196" gradientUnits="userSpaceOnUse" x1="941.28" y1="117.56" x2="921.86" y2="139.77"><stop offset="0" stop-color="#c2c2c2"/><stop offset="1" stop-color="#d6d6d6"/></linearGradient><linearGradient id="t197" gradientUnits="userSpaceOnUse" x1="902.06" y1="117.56" x2="882.79" y2="140.71"><stop offset="0" stop-color="#d4d4d4"/><stop offset="1" stop-color="#e3e3e3"/></linearGradient><linearGradient id="t198" gradientUnits="userSpaceOnUse" x1="941.28" y1="117.56" x2="980.47" y2="156.78"><stop offset="0" stop-color="#c2c2c2"/><stop offset="1" stop-color="#cccccc"/></linearGradient><linearGradient id="t199" gradientUnits="userSpaceOnUse" x1="941.28" y1="117.56" x2="925.61" y2="148.92"><stop offset="0" stop-color="#c2c2c2"/><stop offset="1" stop-color="#d6d6d6"/></linearGradient><linearGradient id="t200" gradientUnits="userSpaceOnUse" x1="39.22" y1="156.75" x2="19.81" y2="179.05"><stop offset="0" stop-color="#545454"/><stop offset="1" stop-color="#a3a3a3"/></linearGradient><linearGradient id="t201" gradientUnits="userSpaceOnUse" x1="0.00" y1="156.75" x2="-18.53" y2="182.71"><stop offset="0" stop-color="#999999"/><stop offset="1" stop-color="#bdbdbd"/></linearGradient><linearGradient id="t202" gradientUnits="userSpaceOnUse" x1="39.22" y1="156.75" x2="69.61" y2="140.37"><stop offset="0" stop-color="#545454"/><stop offset="1" stop-color="#757575"/></linearGradient><linearGradient id="t203" gradientUnits="userSpaceOnUse" x1="39.22" y1="156.75" x2="20.07" y2="180.51"><stop offset="0" stop-color="#545454"/><stop offset="1" stop-color="#a3a3a3"/></linearGradient><linearGradient id="t204" gradientUnits="userSpaceOnUse" x1="78.44" y1="156.75" x2="117.18" y2="152.44"><stop offset="0" stop-color="#757575"/><stop offset="1" stop-color="#8c8c8c"/></linearGradient><linearGradient id="t205" gradientUnits="userSpaceOnUse" x1="78.44" y1="195.94" x2="110.64" y2="180.90"><stop offset="0" stop-color="#636363"/><stop offset="1" stop-color="#8a8a8a"/></linearGradient><linearGradient id="t206" gradientUnits="userSpaceOnUse" x1="117.66" y1="156.75" x2="155.97" y2="150.85"><stop offset="0" stop-color="#8c8c8c"/><stop offset="1" stop-color="#adadad"/></linearGradient><linearGradient id="t207" gradientUnits="userSpaceOnUse" x1="117.66" y1="195.94" x2="156.61" y2="192.69"><stop offset="0" stop-color="#8a8a8a"/><stop offset="1" stop-color="#a8a8a8"/></linearGradient><linearGradient id="t208" gradientUnits="userSpaceOnUse" x1="196.10" y1="156.75" x2="177.87" y2="183.52"><stop offset="0" stop-color="#878787"/><stop offset="1" stop-color="#bfbfbf"/></linearGradient><linearGradient id="t209" gradientUnits="userSpaceOnUse" x1="156.88" y1="195.94" x2="194.25" y2="187.63"><stop offset="0" stop-color="#a8a8a8"/><stop offset="1" stop-color="#bfbfbf"/></linearGradient><linearGradient id="t210" gradientUnits="userSpaceOnUse" x1="235.32" y1="156.75" x2="231.24" y2="195.51"><stop offset="0" stop-color="#828282"/><stop offset="1" stop-color="#b2b2b2"/></linearGradient><linearGradient id="t211" gradientUnits="userSpaceOnUse" x1="196.10" y1="156.75" x2="187.64" y2="194.02"><stop offset="0" stop-color="#878787"/><stop offset="1" stop-color="#bfbfbf"/></linearGradient><linearGradient id="t212" gradientUnits="userSpaceOnUse" x1="235.32" y1="156.75" x2="244.36" y2="201.97"><stop offset="0" stop-color="#828282"/><stop offset="1" stop-color="#b0b0b0"/></linearGradient><linearGradient id="t213" gradientUnits="userSpaceOnUse" x1="235.32" y1="156.75" x2="233.26" y2="195.83"><stop offset="0" stop-color="#828282"/><stop offset="1" stop-color="#b2b2b2"/></linearGradient><linearGradient id="t214" gradientUnits="userSpaceOnUse" x1="274.54" y1="156.75" x2="311.29" y2="198.13"><stop offset="0" stop-color="#8a8a8a"/><stop offset="1" stop-color="#b5b5b5"/></linearGradient><linearGradient id="t215" gradientUnits="userSpaceOnUse" x1="274.54" y1="156.75" x2="280.35" y2="200.39"><stop offset="0" stop-color="#8a8a8a"/><stop offset="1" stop-color="#b5b5b5"/></linearGradient><linearGradient id="t216" gradientUnits="userSpaceOnUse" x1="313.76" y1="156.75" x2="349.05" y2="144.98"><stop offset="0" stop-color="#9e9e9e"/><stop offset="1" stop-color="#cccccc"/></linearGradient><linearGradient id="t217" gradientUnits="userSpaceOnUse" x1="313.76" y1="156.75" x2="329.42" y2="203.78"><stop offset="0" stop-color="#9e9e9e"/><stop offset="1" stop-color="#bdbdbd"/></linearGradient><linearGradient id="t218" gradientUnits="userSpaceOnUse" x1="392.20" y1="156.75" x2="368.82" y2="175.99"><stop offset="0" stop-color="#595959"/><stop offset="1" stop-color="#cccccc"/></linearGradient><linearGradient id="t219" gradientUnits="userSpaceOnUse" x1="392.20" y1="195.94" x2="376.54" y2="148.90"><stop offset="0" stop-color="#b8b8b8"/><stop offset="1" stop-color="#cccccc"/></linearGradient><linearGradient id="t220" gradientUnits="userSpaceOnUse" x1="392.20" y1="156.75" x2="434.39" y2="160.27"><stop offset="0" stop-color="#595959"/><stop offset="1" stop-color="#bdbdbd"/></linearGradient><linearGradient id="t221" gradientUnits="userSpaceOnUse" x1="392.20" y1="156.75" x2="394.42" y2="197.94"><stop offset="0" stop-color="#595959"/><stop offset="1" stop-color="#bdbdbd"/></linearGradient><linearGradient id="t222" gradientUnits="userSpaceOnUse" x1="431.42" y1="156.75" x2="478.03" y2="170.08"><stop offset="0" stop-color="#b5b5b5"/><stop offset="1" stop-color="#cccccc"/></linearGradient><linearGradient id="t223" gradientUnits="userSpaceOnUse" x1="431.42" y1="156.75" x2="478.47" y2="180.29"><stop offset="0" stop-color="#b5b5b5"/><stop offset="1" stop-color="#cccccc"/></linearGradient><linearGradient id="t224" gradientUnits="userSpaceOnUse" x1="470.64" y1="156.75" x2="516.78" y2="168.29"><stop offset="0" stop-color="#c7c7c7"/><stop offset="1" stop-color="#d4d4d4"/></linearGradient><linearGradient id="t225" gradientUnits="userSpaceOnUse" x1="470.64" y1="156.75" x2="515.87" y2="186.93"><stop offset="0" stop-color="#c7c7c7"/><stop offset="1" stop-color="#d4d4d4"/></linearGradient><linearGradient id="t226" gradientUnits="userSpaceOnUse" x1="509.86" y1="156.75" x2="533.36" y2="203.79"><stop offset="0" stop-color="#d1d1d1"/><stop offset="1" stop-color="#d9d9d9"/></linearGradient><linearGradient id="t227" gradientUnits="userSpaceOnUse" x1="509.86" y1="156.75" x2="556.91" y2="180.29"><stop offset="0" stop-color="#d1d1d1"/><stop offset="1" stop-color="#d9d9d9"/></linearGradient><linearGradient id="t228" gradientUnits="userSpaceOnUse" x1="588.30" y1="156.75" x2="561.16" y2="174.86"><stop offset="0" stop-color="#cccccc"/><stop offset="1" stop-color="#d4d4d4"/></linearGradient><linearGradient id="t229" gradientUnits="userSpaceOnUse" x1="588.30" y1="195.94" x2="561.16" y2="214.04"><stop offset="0" stop-color="#d1d1d1"/><stop offset="1" stop-color="#d9d9d9"/></linearGradient><linearGradient id="t230" gradientUnits="userSpaceOnUse" x1="627.52" y1="195.94" x2="604.02" y2="148.90"><stop offset="0" stop-color="#c4c4c4"/><stop offset="1" stop-color="#cccccc"/></linearGradient><linearGradient id="t231" gradientUnits="userSpaceOnUse" x1="627.52" y1="195.94" x2="593.72" y2="209.47"><stop offset="0" stop-color="#c4c4c4"/><stop offset="1" stop-color="#d1d1d1"/></linearGradient><linearGradient id="t232" gradientUnits="userSpaceOnUse" x1="666.74" y1="156.75" x2="629.83" y2="165.98"><stop offset="0" stop-color="#a1a1a1"/><stop offset="1" stop-color="#c9c9c9"/></linearGradient><linearGradient id="t233" gradientUnits="userSpaceOnUse" x1="666.74" y1="195.94" x2="621.49" y2="186.88"><stop offset="0" stop-color="#ababab"/><stop offset="1" stop-color="#c9c9c9"/></linearGradient><linearGradient id="t234" gradientUnits="userSpaceOnUse" x1="705.96" y1="195.94" x2="716.45" y2="159.79"><stop offset="0" stop-color="#696969"/><stop offset="1" stop-color="#b8b8b8"/></linearGradient><linearGradient id="t235" gradientUnits="userSpaceOnUse" x1="705.96" y1="195.94" x2="667.65" y2="201.84"><stop offset="0" stop-color="#696969"/><stop offset="1" stop-color="#ababab"/></linearGradient><linearGradient id="t236" gradientUnits="userSpaceOnUse" x1="745.18" y1="195.94" x2="747.20" y2="156.85"><stop offset="0" stop-color="#2b2b2b"/><stop offset="1" stop-color="#bfbfbf"/></linearGradient><linearGradient id="t237" gradientUnits="userSpaceOnUse" x1="745.18" y1="195.94" x2="711.53" y2="152.44"><stop offset="0" stop-color="#2b2b2b"/><stop offset="1" stop-color="#b8b8b8"/></linearGradient><linearGradient id="t238" gradientUnits="userSpaceOnUse" x1="784.40" y1="195.94" x2="790.20" y2="157.63"><stop offset="0" stop-color="#787878"/><stop offset="1" stop-color="#cccccc"/></linearGradient><linearGradient id="t239" gradientUnits="userSpaceOnUse" x1="745.18" y1="195.94" x2="761.16" y2="165.01"><stop offset="0" stop-color="#2b2b2b"/><stop offset="1" stop-color="#bfbfbf"/></linearGradient><linearGradient id="t240" gradientUnits="userSpaceOnUse" x1="823.62" y1="195.94" x2="807.96" y2="148.90"><stop offset="0" stop-color="#c2c2c2"/><stop offset="1" stop-color="#cccccc"/></linearGradient><linearGradient id="t241" gradientUnits="userSpaceOnUse" x1="784.40" y1="195.94" x2="803.83" y2="173.81"><stop offset="0" stop-color="#787878"/><stop offset="1" stop-color="#cccccc"/></linearGradient><linearGradient id="t242" gradientUnits="userSpaceOnUse" x1="862.84" y1="195.94" x2="880.45" y2="167.74"><stop offset="0" stop-color="#c2c2c2"/><stop offset="1" stop-color="#d6d6d6"/></linearGradient><linearGradient id="t243" gradientUnits="userSpaceOnUse" x1="823.62" y1="195.94" x2="823.62" y2="156.75"><stop offset="0" stop-color="#c2c2c2"/><stop offset="1" stop-color="#c9c9c9"/></linearGradient><linearGradient id="t244" gradientUnits="userSpaceOnUse" x1="902.06" y1="195.94" x2="916.81" y2="163.45"><stop offset="0" stop-color="#c7c7c7"/><stop offset="1" stop-color="#e3e3e3"/></linearGradient><linearGradient id="t245" gradientUnits="userSpaceOnUse" x1="862.84" y1="195.94" x2="872.05" y2="159.05"><stop offset="0" stop-color="#c2c2c2"/><stop offset="1" stop-color="#d6d6d6"/></linearGradient><linearGradient id="t246" gradientUnits="userSpaceOnUse" x1="941.28" y1="156.75" x2="902.06" y2="156.75"><stop offset="0" stop-color="#d6d6d6"/><stop offset="1" stop-color="#e3e3e3"/></linearGradient><linearGradient id="t247" gradientUnits="userSpaceOnUse" x1="902.06" y1="195.94" x2="918.53" y2="165.72"><stop offset="0" stop-color="#c7c7c7"/><stop offset="1" stop-color="#e3e3e3"/></linearGradient><linearGradient id="t248" gradientUnits="userSpaceOnUse" x1="980.50" y1="156.75" x2="949.13" y2="172.45"><stop offset="0" stop-color="#cccccc"/><stop offset="1" stop-color="#d6d6d6"/></linearGradient><linearGradient id="t249" gradientUnits="userSpaceOnUse" x1="980.50" y1="195.94" x2="941.28" y2="195.94"><stop offset="0" stop-color="#d1d1d1"/><stop offset="1" stop-color="#d6d6d6"/></linearGradient><linearGradient id="t250" gradientUnits="userSpaceOnUse" x1="39.22" y1="195.94" x2="5.42" y2="209.47"><stop offset="0" stop-color="#a3a3a3"/><stop offset="1" stop-color="#bdbdbd"/></linearGradient><linearGradient id="t251" gradientUnits="userSpaceOnUse" x1="39.22" y1="235.12" x2="15.72" y2="188.08"><stop offset="0" stop-color="#adadad"/><stop offset="1" stop-color="#bdbdbd"/></linearGradient><linearGradient id="t252" gradientUnits="userSpaceOnUse" x1="78.44" y1="195.94" x2="58.85" y2="215.55"><stop offset="0" stop-color="#636363"/><stop offset="1" stop-color="#a3a3a3"/></linearGradient><linearGradient id="t253" gradientUnits="userSpaceOnUse" x1="39.22" y1="195.94" x2="19.63" y2="215.55"><stop offset="0" stop-color="#a3a3a3"/><stop offset="1" stop-color="#adadad"/></linearGradient><linearGradient id="t254" gradientUnits="userSpaceOnUse" x1="78.44" y1="195.94" x2="125.76" y2="214.88"><stop offset="0" stop-color="#636363"/><stop offset="1" stop-color="#999999"/></linearGradient><linearGradient id="t255" gradientUnits="userSpaceOnUse" x1="78.44" y1="195.94" x2="72.33" y2="234.15"><stop offset="0" stop-color="#636363"/><stop offset="1" stop-color="#a3a3a3"/></linearGradient><linearGradient id="t256" gradientUnits="userSpaceOnUse" x1="117.66" y1="195.94" x2="154.57" y2="186.70"><stop offset="0" stop-color="#8a8a8a"/><stop offset="1" stop-color="#a8a8a8"/></linearGradient><linearGradient id="t257" gradientUnits="userSpaceOnUse" x1="117.66" y1="195.94" x2="141.16" y2="242.98"><stop offset="0" stop-color="#8a8a8a"/><stop offset="1" stop-color="#a1a1a1"/></linearGradient><linearGradient id="t258" gradientUnits="userSpaceOnUse" x1="156.88" y1="195.94" x2="184.02" y2="177.83"><stop offset="0" stop-color="#a8a8a8"/><stop offset="1" stop-color="#bfbfbf"/></linearGradient><linearGradient id="t259" gradientUnits="userSpaceOnUse" x1="156.88" y1="235.12" x2="188.25" y2="219.43"><stop offset="0" stop-color="#a1a1a1"/><stop offset="1" stop-color="#b0b0b0"/></linearGradient><linearGradient id="t260" gradientUnits="userSpaceOnUse" x1="235.32" y1="195.94" x2="196.10" y2="195.94"><stop offset="0" stop-color="#b2b2b2"/><stop offset="1" stop-color="#bfbfbf"/></linearGradient><linearGradient id="t261" gradientUnits="userSpaceOnUse" x1="196.10" y1="235.12" x2="202.45" y2="196.99"><stop offset="0" stop-color="#b0b0b0"/><stop offset="1" stop-color="#bfbfbf"/></linearGradient><linearGradient id="t262" gradientUnits="userSpaceOnUse" x1="274.54" y1="195.94" x2="258.87" y2="227.30"><stop offset="0" stop-color="#b0b0b0"/><stop offset="1" stop-color="#b5b5b5"/></linearGradient><linearGradient id="t263" gradientUnits="userSpaceOnUse" x1="235.32" y1="195.94" x2="274.54" y2="195.94"><stop offset="0" stop-color="#b2b2b2"/><stop offset="1" stop-color="#b5b5b5"/></linearGradient><linearGradient id="t264" gradientUnits="userSpaceOnUse" x1="274.54" y1="195.94" x2="321.59" y2="219.48"><stop offset="0" stop-color="#b0b0b0"/><stop offset="1" stop-color="#b8b8b8"/></linearGradient><linearGradient id="t265" gradientUnits="userSpaceOnUse" x1="274.54" y1="195.94" x2="298.04" y2="242.98"><stop offset="0" stop-color="#b0b0b0"/><stop offset="1" stop-color="#b8b8b8"/></linearGradient><linearGradient id="t266" gradientUnits="userSpaceOnUse" x1="313.76" y1="195.94" x2="340.90" y2="177.83"><stop offset="0" stop-color="#b5b5b5"/><stop offset="1" stop-color="#bdbdbd"/></linearGradient><linearGradient id="t267" gradientUnits="userSpaceOnUse" x1="313.76" y1="195.94" x2="313.76" y2="235.12"><stop offset="0" stop-color="#b5b5b5"/><stop offset="1" stop-color="#b8b8b8"/></linearGradient><linearGradient id="t268" gradientUnits="userSpaceOnUse" x1="392.20" y1="195.94" x2="360.83" y2="211.63"><stop offset="0" stop-color="#b8b8b8"/><stop offset="1" stop-color="#bdbdbd"/></linearGradient><linearGradient id="t269" gradientUnits="userSpaceOnUse" x1="352.98" y1="235.12" x2="368.65" y2="203.76"><stop offset="0" stop-color="#b8b8b8"/><stop offset="1" stop-color="#bdbdbd"/></linearGradient><linearGradient id="t270" gradientUnits="userSpaceOnUse" x1="392.20" y1="195.94" x2="431.39" y2="235.16"><stop offset="0" stop-color="#b8b8b8"/><stop offset="1" stop-color="#c2c2c2"/></linearGradient><linearGradient id="t271" gradientUnits="userSpaceOnUse" x1="392.20" y1="195.94" x2="439.26" y2="211.64"><stop offset="0" stop-color="#b8b8b8"/><stop offset="1" stop-color="#c2c2c2"/></linearGradient><linearGradient id="t272" gradientUnits="userSpaceOnUse" x1="431.42" y1="195.94" x2="469.58" y2="189.57"><stop offset="0" stop-color="#bdbdbd"/><stop offset="1" stop-color="#cccccc"/></linearGradient><linearGradient id="t273" gradientUnits="userSpaceOnUse" x1="431.42" y1="195.94" x2="476.65" y2="226.12"><stop offset="0" stop-color="#bdbdbd"/><stop offset="1" stop-color="#c9c9c9"/></linearGradient><linearGradient id="t274" gradientUnits="userSpaceOnUse" x1="470.64" y1="195.94" x2="505.93" y2="184.16"><stop offset="0" stop-color="#cccccc"/><stop offset="1" stop-color="#d4d4d4"/></linearGradient><linearGradient id="t275" gradientUnits="userSpaceOnUse" x1="470.64" y1="235.12" x2="505.93" y2="223.35"><stop offset="0" stop-color="#c9c9c9"/><stop offset="1" stop-color="#d1d1d1"/></linearGradient><linearGradient id="t276" gradientUnits="userSpaceOnUse" x1="549.08" y1="235.12" x2="567.16" y2="207.98"><stop offset="0" stop-color="#d1d1d1"/><stop offset="1" stop-color="#d9d9d9"/></linearGradient><linearGradient id="t277" gradientUnits="userSpaceOnUse" x1="509.86" y1="235.12" x2="509.86" y2="195.94"><stop offset="0" stop-color="#d1d1d1"/><stop offset="1" stop-color="#d4d4d4"/></linearGradient><linearGradient id="t278" gradientUnits="userSpaceOnUse" x1="588.30" y1="235.12" x2="543.07" y2="204.95"><stop offset="0" stop-color="#cccccc"/><stop offset="1" stop-color="#d9d9d9"/></linearGradient><linearGradient id="t279" gradientUnits="userSpaceOnUse" x1="588.30" y1="235.12" x2="558.17" y2="189.89"><stop offset="0" stop-color="#cccccc"/><stop offset="1" stop-color="#d9d9d9"/></linearGradient><linearGradient id="t280" gradientUnits="userSpaceOnUse" x1="627.52" y1="235.12" x2="582.27" y2="226.07"><stop offset="0" stop-color="#c2c2c2"/><stop offset="1" stop-color="#d1d1d1"/></linearGradient><linearGradient id="t281" gradientUnits="userSpaceOnUse" x1="627.52" y1="235.12" x2="580.47" y2="211.58"><stop offset="0" stop-color="#c2c2c2"/><stop offset="1" stop-color="#d1d1d1"/></linearGradient><linearGradient id="t282" gradientUnits="userSpaceOnUse" x1="666.74" y1="195.94" x2="645.09" y2="215.44"><stop offset="0" stop-color="#ababab"/><stop offset="1" stop-color="#c4c4c4"/></linearGradient><linearGradient id="t283" gradientUnits="userSpaceOnUse" x1="627.52" y1="235.12" x2="627.52" y2="195.94"><stop offset="0" stop-color="#c2c2c2"/><stop offset="1" stop-color="#c4c4c4"/></linearGradient><linearGradient id="t284" gradientUnits="userSpaceOnUse" x1="705.96" y1="195.94" x2="687.53" y2="222.19"><stop offset="0" stop-color="#696969"/><stop offset="1" stop-color="#c7c7c7"/></linearGradient><linearGradient id="t285" gradientUnits="userSpaceOnUse" x1="666.74" y1="195.94" x2="676.88" y2="241.58"><stop offset="0" stop-color="#ababab"/><stop offset="1" stop-color="#c7c7c7"/></linearGradient><linearGradient id="t286" gradientUnits="userSpaceOnUse" x1="745.18" y1="195.94" x2="731.51" y2="229.57"><stop offset="0" stop-color="#2b2b2b"/><stop offset="1" stop-color="#c2c2c2"/></linearGradient><linearGradient id="t287" gradientUnits="userSpaceOnUse" x1="705.96" y1="195.94" x2="703.85" y2="235.01"><stop offset="0" stop-color="#696969"/><stop offset="1" stop-color="#c7c7c7"/></linearGradient><linearGradient id="t288" gradientUnits="userSpaceOnUse" x1="745.18" y1="195.94" x2="792.50" y2="214.88"><stop offset="0" stop-color="#2b2b2b"/><stop offset="1" stop-color="#969696"/></linearGradient><linearGradient id="t289" gradientUnits="userSpaceOnUse" x1="745.18" y1="195.94" x2="734.76" y2="232.13"><stop offset="0" stop-color="#2b2b2b"/><stop offset="1" stop-color="#c2c2c2"/></linearGradient><linearGradient id="t290" gradientUnits="userSpaceOnUse" x1="784.40" y1="195.94" x2="815.33" y2="179.93"><stop offset="0" stop-color="#787878"/><stop offset="1" stop-color="#c2c2c2"/></linearGradient><linearGradient id="t291" gradientUnits="userSpaceOnUse" x1="784.40" y1="195.94" x2="791.81" y2="240.42"><stop offset="0" stop-color="#787878"/><stop offset="1" stop-color="#9c9c9c"/></linearGradient><linearGradient id="t292" gradientUnits="userSpaceOnUse" x1="862.84" y1="235.12" x2="862.84" y2="195.94"><stop offset="0" stop-color="#212121"/><stop offset="1" stop-color="#c2c2c2"/></linearGradient><linearGradient id="t293" gradientUnits="userSpaceOnUse" x1="862.84" y1="235.12" x2="815.95" y2="220.46"><stop offset="0" stop-color="#212121"/><stop offset="1" stop-color="#c2c2c2"/></linearGradient><linearGradient id="t294" gradientUnits="userSpaceOnUse" x1="902.06" y1="235.12" x2="903.80" y2="196.01"><stop offset="0" stop-color="#545454"/><stop offset="1" stop-color="#c7c7c7"/></linearGradient><linearGradient id="t295" gradientUnits="userSpaceOnUse" x1="862.84" y1="235.12" x2="874.13" y2="199.52"><stop offset="0" stop-color="#212121"/><stop offset="1" stop-color="#c2c2c2"/></linearGradient><linearGradient id="t296" gradientUnits="userSpaceOnUse" x1="941.28" y1="235.12" x2="954.78" y2="201.33"><stop offset="0" stop-color="#b0b0b0"/><stop offset="1" stop-color="#d6d6d6"/></linearGradient><linearGradient id="t297" gradientUnits="userSpaceOnUse" x1="902.06" y1="235.12" x2="921.17" y2="211.21"><stop offset="0" stop-color="#545454"/><stop offset="1" stop-color="#c7c7c7"/></linearGradient><linearGradient id="t298" gradientUnits="userSpaceOnUse" x1="980.50" y1="235.12" x2="976.24" y2="192.44"><stop offset="0" stop-color="#9e9e9e"/><stop offset="1" stop-color="#d6d6d6"/></linearGradient><linearGradient id="t299" gradientUnits="userSpaceOnUse" x1="980.50" y1="235.12" x2="958.49" y2="187.91"><stop offset="0" stop-color="#9e9e9e"/><stop offset="1" stop-color="#d6d6d6"/></linearGradient><linearGradient id="t300" gradientUnits="userSpaceOnUse" x1="39.22" y1="235.12" x2="0.00" y2="235.12"><stop offset="0" stop-color="#adadad"/><stop offset="1" stop-color="#b2b2b2"/></linearGradient><linearGradient id="t301" gradientUnits="userSpaceOnUse" x1="0.00" y1="274.31" x2="11.75" y2="239.04"><stop offset="0" stop-color="#ababab"/><stop offset="1" stop-color="#b2b2b2"/></linearGradient><linearGradient id="t302" gradientUnits="userSpaceOnUse" x1="78.44" y1="235.12" x2="58.85" y2="254.73"><stop offset="0" stop-color="#a3a3a3"/><stop offset="1" stop-color="#adadad"/></linearGradient><linearGradient id="t304" gradientUnits="userSpaceOnUse" x1="117.66" y1="235.12" x2="99.58" y2="262.27"><stop offset="0" stop-color="#999999"/><stop offset="1" stop-color="#a8a8a8"/></linearGradient><linearGradient id="t305" gradientUnits="userSpaceOnUse" x1="78.44" y1="235.12" x2="62.77" y2="266.49"><stop offset="0" stop-color="#a3a3a3"/><stop offset="1" stop-color="#adadad"/></linearGradient><linearGradient id="t306" gradientUnits="userSpaceOnUse" x1="117.66" y1="235.12" x2="156.88" y2="235.12"><stop offset="0" stop-color="#999999"/><stop offset="1" stop-color="#a1a1a1"/></linearGradient><linearGradient id="t307" gradientUnits="userSpaceOnUse" x1="117.66" y1="235.12" x2="101.99" y2="266.49"><stop offset="0" stop-color="#999999"/><stop offset="1" stop-color="#a8a8a8"/></linearGradient><linearGradient id="t308" gradientUnits="userSpaceOnUse" x1="156.88" y1="235.12" x2="180.01" y2="215.83"><stop offset="0" stop-color="#a1a1a1"/><stop offset="1" stop-color="#b0b0b0"/></linearGradient><linearGradient id="t309" gradientUnits="userSpaceOnUse" x1="156.88" y1="235.12" x2="196.10" y2="235.12"><stop offset="0" stop-color="#a1a1a1"/><stop offset="1" stop-color="#a3a3a3"/></linearGradient><linearGradient id="t310" gradientUnits="userSpaceOnUse" x1="235.32" y1="274.31" x2="238.56" y2="235.39"><stop offset="0" stop-color="#949494"/><stop offset="1" stop-color="#b2b2b2"/></linearGradient><linearGradient id="t311" gradientUnits="userSpaceOnUse" x1="235.32" y1="274.31" x2="192.91" y2="238.94"><stop offset="0" stop-color="#949494"/><stop offset="1" stop-color="#b0b0b0"/></linearGradient><linearGradient id="t312" gradientUnits="userSpaceOnUse" x1="274.54" y1="274.31" x2="278.84" y2="235.60"><stop offset="0" stop-color="#9e9e9e"/><stop offset="1" stop-color="#b5b5b5"/></linearGradient><linearGradient id="t313" gradientUnits="userSpaceOnUse" x1="235.32" y1="274.31" x2="247.07" y2="239.04"><stop offset="0" stop-color="#949494"/><stop offset="1" stop-color="#b2b2b2"/></linearGradient><linearGradient id="t314" gradientUnits="userSpaceOnUse" x1="313.76" y1="274.31" x2="329.43" y2="242.95"><stop offset="0" stop-color="#b2b2b2"/><stop offset="1" stop-color="#b8b8b8"/></linearGradient><linearGradient id="t315" gradientUnits="userSpaceOnUse" x1="274.54" y1="274.31" x2="294.00" y2="252.41"><stop offset="0" stop-color="#9e9e9e"/><stop offset="1" stop-color="#b5b5b5"/></linearGradient><linearGradient id="t316" gradientUnits="userSpaceOnUse" x1="352.98" y1="274.31" x2="352.98" y2="235.12"><stop offset="0" stop-color="#b2b2b2"/><stop offset="1" stop-color="#b8b8b8"/></linearGradient><linearGradient id="t317" gradientUnits="userSpaceOnUse" x1="313.76" y1="274.31" x2="313.76" y2="235.12"><stop offset="0" stop-color="#b2b2b2"/><stop offset="1" stop-color="#b8b8b8"/></linearGradient><linearGradient id="t318" gradientUnits="userSpaceOnUse" x1="392.20" y1="274.31" x2="398.55" y2="236.18"><stop offset="0" stop-color="#ababab"/><stop offset="1" stop-color="#bababa"/></linearGradient><linearGradient id="t319" gradientUnits="userSpaceOnUse" x1="392.20" y1="274.31" x2="346.97" y2="244.13"><stop offset="0" stop-color="#ababab"/><stop offset="1" stop-color="#b8b8b8"/></linearGradient><linearGradient id="t320" gradientUnits="userSpaceOnUse" x1="392.20" y1="235.12" x2="431.42" y2="235.12"><stop offset="0" stop-color="#bababa"/><stop offset="1" stop-color="#c2c2c2"/></linearGradient><linearGradient id="t321" gradientUnits="userSpaceOnUse" x1="392.20" y1="274.31" x2="419.34" y2="256.21"><stop offset="0" stop-color="#ababab"/><stop offset="1" stop-color="#c2c2c2"/></linearGradient><linearGradient id="t322" gradientUnits="userSpaceOnUse" x1="431.42" y1="235.12" x2="478.48" y2="250.82"><stop offset="0" stop-color="#c2c2c2"/><stop offset="1" stop-color="#cccccc"/></linearGradient><linearGradient id="t323" gradientUnits="userSpaceOnUse" x1="431.42" y1="235.12" x2="470.64" y2="235.12"><stop offset="0" stop-color="#c2c2c2"/><stop offset="1" stop-color="#cccccc"/></linearGradient><linearGradient id="t324" gradientUnits="userSpaceOnUse" x1="509.86" y1="274.31" x2="518.44" y2="237.10"><stop offset="0" stop-color="#b0b0b0"/><stop offset="1" stop-color="#d1d1d1"/></linearGradient><linearGradient id="t325" gradientUnits="userSpaceOnUse" x1="509.86" y1="274.31" x2="470.96" y2="277.85"><stop offset="0" stop-color="#b0b0b0"/><stop offset="1" stop-color="#cccccc"/></linearGradient><linearGradient id="t326" gradientUnits="userSpaceOnUse" x1="549.08" y1="274.31" x2="549.08" y2="235.12"><stop offset="0" stop-color="#bdbdbd"/><stop offset="1" stop-color="#d1d1d1"/></linearGradient><linearGradient id="t327" gradientUnits="userSpaceOnUse" x1="509.86" y1="274.31" x2="522.98" y2="240.17"><stop offset="0" stop-color="#b0b0b0"/><stop offset="1" stop-color="#d1d1d1"/></linearGradient><linearGradient id="t328" gradientUnits="userSpaceOnUse" x1="588.30" y1="274.31" x2="569.39" y2="227.01"><stop offset="0" stop-color="#bfbfbf"/><stop offset="1" stop-color="#d1d1d1"/></linearGradient><linearGradient id="t329" gradientUnits="userSpaceOnUse" x1="549.08" y1="274.31" x2="553.90" y2="235.73"><stop offset="0" stop-color="#bdbdbd"/><stop offset="1" stop-color="#d1d1d1"/></linearGradient><linearGradient id="t330" gradientUnits="userSpaceOnUse" x1="627.52" y1="274.31" x2="604.02" y2="227.27"><stop offset="0" stop-color="#adadad"/><stop offset="1" stop-color="#cccccc"/></linearGradient><linearGradient id="t331" gradientUnits="userSpaceOnUse" x1="627.52" y1="274.31" x2="583.02" y2="242.50"><stop offset="0" stop-color="#adadad"/><stop offset="1" stop-color="#cccccc"/></linearGradient><linearGradient id="t332" gradientUnits="userSpaceOnUse" x1="627.52" y1="235.12" x2="627.52" y2="274.31"><stop offset="0" stop-color="#c2c2c2"/><stop offset="1" stop-color="#cccccc"/></linearGradient><linearGradient id="t333" gradientUnits="userSpaceOnUse" x1="627.52" y1="274.31" x2="654.66" y2="256.21"><stop offset="0" stop-color="#adadad"/><stop offset="1" stop-color="#cccccc"/></linearGradient><linearGradient id="t334" gradientUnits="userSpaceOnUse" x1="666.74" y1="235.12" x2="682.40" y2="282.16"><stop offset="0" stop-color="#c2c2c2"/><stop offset="1" stop-color="#d6d6d6"/></linearGradient><linearGradient id="t335" gradientUnits="userSpaceOnUse" x1="666.74" y1="235.12" x2="705.93" y2="274.34"><stop offset="0" stop-color="#c2c2c2"/><stop offset="1" stop-color="#d6d6d6"/></linearGradient><linearGradient id="t336" gradientUnits="userSpaceOnUse" x1="745.18" y1="235.12" x2="736.89" y2="272.47"><stop offset="0" stop-color="#c2c2c2"/><stop offset="1" stop-color="#d9d9d9"/></linearGradient><linearGradient id="t337" gradientUnits="userSpaceOnUse" x1="705.96" y1="235.12" x2="713.37" y2="279.61"><stop offset="0" stop-color="#c7c7c7"/><stop offset="1" stop-color="#d9d9d9"/></linearGradient><linearGradient id="t338" gradientUnits="userSpaceOnUse" x1="784.40" y1="235.12" x2="764.93" y2="256.91"><stop offset="0" stop-color="#969696"/><stop offset="1" stop-color="#c7c7c7"/></linearGradient><linearGradient id="t339" gradientUnits="userSpaceOnUse" x1="745.18" y1="235.12" x2="726.19" y2="259.56"><stop offset="0" stop-color="#c2c2c2"/><stop offset="1" stop-color="#d9d9d9"/></linearGradient><linearGradient id="t340" gradientUnits="userSpaceOnUse" x1="784.40" y1="235.12" x2="790.21" y2="278.76"><stop offset="0" stop-color="#969696"/><stop offset="1" stop-color="#c2c2c2"/></linearGradient><linearGradient id="t341" gradientUnits="userSpaceOnUse" x1="784.40" y1="235.12" x2="780.32" y2="273.88"><stop offset="0" stop-color="#969696"/><stop offset="1" stop-color="#c7c7c7"/></linearGradient><linearGradient id="t342" gradientUnits="userSpaceOnUse" x1="862.84" y1="235.12" x2="843.80" y2="259.34"><stop offset="0" stop-color="#212121"/><stop offset="1" stop-color="#bdbdbd"/></linearGradient><linearGradient id="t343" gradientUnits="userSpaceOnUse" x1="823.62" y1="235.12" x2="818.49" y2="273.63"><stop offset="0" stop-color="#9c9c9c"/><stop offset="1" stop-color="#c2c2c2"/></linearGradient><linearGradient id="t344" gradientUnits="userSpaceOnUse" x1="862.84" y1="235.12" x2="908.96" y2="262.82"><stop offset="0" stop-color="#212121"/><stop offset="1" stop-color="#737373"/></linearGradient><linearGradient id="t345" gradientUnits="userSpaceOnUse" x1="862.84" y1="235.12" x2="847.65" y2="267.10"><stop offset="0" stop-color="#212121"/><stop offset="1" stop-color="#bdbdbd"/></linearGradient><linearGradient id="t346" gradientUnits="userSpaceOnUse" x1="902.06" y1="235.12" x2="934.80" y2="220.56"><stop offset="0" stop-color="#545454"/><stop offset="1" stop-color="#b0b0b0"/></linearGradient><linearGradient id="t347" gradientUnits="userSpaceOnUse" x1="902.06" y1="235.12" x2="932.19" y2="280.36"><stop offset="0" stop-color="#545454"/><stop offset="1" stop-color="#878787"/></linearGradient><linearGradient id="t348" gradientUnits="userSpaceOnUse" x1="980.50" y1="235.12" x2="967.27" y2="269.17"><stop offset="0" stop-color="#9e9e9e"/><stop offset="1" stop-color="#cccccc"/></linearGradient><linearGradient id="t349" gradientUnits="userSpaceOnUse" x1="941.28" y1="274.31" x2="970.29" y2="257.10"><stop offset="0" stop-color="#878787"/><stop offset="1" stop-color="#cccccc"/></linearGradient><linearGradient id="t350" gradientUnits="userSpaceOnUse" x1="0.00" y1="274.31" x2="19.59" y2="254.70"><stop offset="0" stop-color="#ababab"/><stop offset="1" stop-color="#adadad"/></linearGradient><linearGradient id="t351" gradientUnits="userSpaceOnUse" x1="0.00" y1="313.50" x2="19.59" y2="293.89"><stop offset="0" stop-color="#a8a8a8"/><stop offset="1" stop-color="#ababab"/></linearGradient><linearGradient id="t353" gradientUnits="userSpaceOnUse" x1="39.22" y1="313.50" x2="58.81" y2="293.89"><stop offset="0" stop-color="#ababab"/><stop offset="1" stop-color="#adadad"/></linearGradient><linearGradient id="t354" gradientUnits="userSpaceOnUse" x1="117.66" y1="274.31" x2="98.07" y2="293.92"><stop offset="0" stop-color="#a8a8a8"/><stop offset="1" stop-color="#adadad"/></linearGradient><linearGradient id="t356" gradientUnits="userSpaceOnUse" x1="156.88" y1="274.31" x2="141.21" y2="305.67"><stop offset="0" stop-color="#a1a1a1"/><stop offset="1" stop-color="#b0b0b0"/></linearGradient><linearGradient id="t357" gradientUnits="userSpaceOnUse" x1="117.66" y1="274.31" x2="141.16" y2="321.35"><stop offset="0" stop-color="#a8a8a8"/><stop offset="1" stop-color="#b0b0b0"/></linearGradient><linearGradient id="t358" gradientUnits="userSpaceOnUse" x1="156.88" y1="274.31" x2="160.39" y2="316.47"><stop offset="0" stop-color="#a1a1a1"/><stop offset="1" stop-color="#c2c2c2"/></linearGradient><linearGradient id="t359" gradientUnits="userSpaceOnUse" x1="156.88" y1="274.31" x2="198.84" y2="310.31"><stop offset="0" stop-color="#a1a1a1"/><stop offset="1" stop-color="#c2c2c2"/></linearGradient><linearGradient id="t360" gradientUnits="userSpaceOnUse" x1="235.32" y1="274.31" x2="225.38" y2="310.79"><stop offset="0" stop-color="#949494"/><stop offset="1" stop-color="#cccccc"/></linearGradient><linearGradient id="t361" gradientUnits="userSpaceOnUse" x1="196.10" y1="274.31" x2="211.76" y2="321.35"><stop offset="0" stop-color="#a3a3a3"/><stop offset="1" stop-color="#cccccc"/></linearGradient><linearGradient id="t362" gradientUnits="userSpaceOnUse" x1="235.32" y1="274.31" x2="246.84" y2="320.42"><stop offset="0" stop-color="#949494"/><stop offset="1" stop-color="#c7c7c7"/></linearGradient><linearGradient id="t363" gradientUnits="userSpaceOnUse" x1="235.32" y1="274.31" x2="231.79" y2="313.18"><stop offset="0" stop-color="#949494"/><stop offset="1" stop-color="#cccccc"/></linearGradient><linearGradient id="t364" gradientUnits="userSpaceOnUse" x1="274.54" y1="274.31" x2="318.44" y2="307.26"><stop offset="0" stop-color="#9e9e9e"/><stop offset="1" stop-color="#c2c2c2"/></linearGradient><linearGradient id="t365" gradientUnits="userSpaceOnUse" x1="274.54" y1="274.31" x2="269.72" y2="312.90"><stop offset="0" stop-color="#9e9e9e"/><stop offset="1" stop-color="#c7c7c7"/></linearGradient><linearGradient id="t366" gradientUnits="userSpaceOnUse" x1="313.76" y1="274.31" x2="313.76" y2="313.50"><stop offset="0" stop-color="#b2b2b2"/><stop offset="1" stop-color="#bdbdbd"/></linearGradient><linearGradient id="t367" gradientUnits="userSpaceOnUse" x1="313.76" y1="274.31" x2="302.01" y2="309.59"><stop offset="0" stop-color="#b2b2b2"/><stop offset="1" stop-color="#c2c2c2"/></linearGradient><linearGradient id="t368" gradientUnits="userSpaceOnUse" x1="392.20" y1="313.50" x2="364.55" y2="267.38"><stop offset="0" stop-color="#9e9e9e"/><stop offset="1" stop-color="#b2b2b2"/></linearGradient><linearGradient id="t369" gradientUnits="userSpaceOnUse" x1="392.20" y1="313.50" x2="356.91" y2="325.27"><stop offset="0" stop-color="#9e9e9e"/><stop offset="1" stop-color="#bdbdbd"/></linearGradient><linearGradient id="t370" gradientUnits="userSpaceOnUse" x1="392.20" y1="274.31" x2="431.39" y2="313.53"><stop offset="0" stop-color="#ababab"/><stop offset="1" stop-color="#d9d9d9"/></linearGradient><linearGradient id="t371" gradientUnits="userSpaceOnUse" x1="392.20" y1="313.50" x2="429.65" y2="305.35"><stop offset="0" stop-color="#9e9e9e"/><stop offset="1" stop-color="#d9d9d9"/></linearGradient><linearGradient id="t372" gradientUnits="userSpaceOnUse" x1="470.64" y1="313.50" x2="479.37" y2="276.37"><stop offset="0" stop-color="#a1a1a1"/><stop offset="1" stop-color="#cccccc"/></linearGradient><linearGradient id="t373" gradientUnits="userSpaceOnUse" x1="470.64" y1="313.50" x2="437.05" y2="327.25"><stop offset="0" stop-color="#a1a1a1"/><stop offset="1" stop-color="#d9d9d9"/></linearGradient><linearGradient id="t374" gradientUnits="userSpaceOnUse" x1="509.86" y1="274.31" x2="490.27" y2="293.92"><stop offset="0" stop-color="#b0b0b0"/><stop offset="1" stop-color="#cccccc"/></linearGradient><linearGradient id="t375" gradientUnits="userSpaceOnUse" x1="470.64" y1="313.50" x2="490.23" y2="293.89"><stop offset="0" stop-color="#a1a1a1"/><stop offset="1" stop-color="#cccccc"/></linearGradient><linearGradient id="t376" gradientUnits="userSpaceOnUse" x1="509.86" y1="274.31" x2="557.18" y2="293.26"><stop offset="0" stop-color="#b0b0b0"/><stop offset="1" stop-color="#c2c2c2"/></linearGradient><linearGradient id="t377" gradientUnits="userSpaceOnUse" x1="509.86" y1="274.31" x2="497.28" y2="308.93"><stop offset="0" stop-color="#b0b0b0"/><stop offset="1" stop-color="#cccccc"/></linearGradient><linearGradient id="t378" gradientUnits="userSpaceOnUse" x1="549.08" y1="274.31" x2="588.27" y2="313.53"><stop offset="0" stop-color="#bdbdbd"/><stop offset="1" stop-color="#c2c2c2"/></linearGradient><linearGradient id="t379" gradientUnits="userSpaceOnUse" x1="549.08" y1="274.31" x2="549.08" y2="313.50"><stop offset="0" stop-color="#bdbdbd"/><stop offset="1" stop-color="#c2c2c2"/></linearGradient><linearGradient id="t380" gradientUnits="userSpaceOnUse" x1="627.52" y1="274.31" x2="604.93" y2="293.69"><stop offset="0" stop-color="#adadad"/><stop offset="1" stop-color="#bfbfbf"/></linearGradient><linearGradient id="t381" gradientUnits="userSpaceOnUse" x1="627.52" y1="313.50" x2="596.15" y2="329.20"><stop offset="0" stop-color="#bdbdbd"/><stop offset="1" stop-color="#c2c2c2"/></linearGradient><linearGradient id="t382" gradientUnits="userSpaceOnUse" x1="627.52" y1="274.31" x2="672.04" y2="281.74"><stop offset="0" stop-color="#adadad"/><stop offset="1" stop-color="#d1d1d1"/></linearGradient><linearGradient id="t383" gradientUnits="userSpaceOnUse" x1="627.52" y1="274.31" x2="671.42" y2="307.26"><stop offset="0" stop-color="#adadad"/><stop offset="1" stop-color="#d1d1d1"/></linearGradient><linearGradient id="t384" gradientUnits="userSpaceOnUse" x1="666.74" y1="274.31" x2="710.64" y2="307.26"><stop offset="0" stop-color="#cccccc"/><stop offset="1" stop-color="#dedede"/></linearGradient><linearGradient id="t385" gradientUnits="userSpaceOnUse" x1="666.74" y1="274.31" x2="714.06" y2="293.26"><stop offset="0" stop-color="#cccccc"/><stop offset="1" stop-color="#dedede"/></linearGradient><linearGradient id="t386" gradientUnits="userSpaceOnUse" x1="705.96" y1="274.31" x2="712.23" y2="318.20"><stop offset="0" stop-color="#d6d6d6"/><stop offset="1" stop-color="#ebebeb"/></linearGradient><linearGradient id="t387" gradientUnits="userSpaceOnUse" x1="705.96" y1="274.31" x2="752.08" y2="302.01"><stop offset="0" stop-color="#d6d6d6"/><stop offset="1" stop-color="#ebebeb"/></linearGradient><linearGradient id="t388" gradientUnits="userSpaceOnUse" x1="784.40" y1="274.31" x2="764.98" y2="296.52"><stop offset="0" stop-color="#c7c7c7"/><stop offset="1" stop-color="#dbdbdb"/></linearGradient><linearGradient id="t389" gradientUnits="userSpaceOnUse" x1="745.18" y1="274.31" x2="725.82" y2="296.92"><stop offset="0" stop-color="#d9d9d9"/><stop offset="1" stop-color="#ebebeb"/></linearGradient><linearGradient id="t390" gradientUnits="userSpaceOnUse" x1="823.62" y1="274.31" x2="814.41" y2="311.20"><stop offset="0" stop-color="#c2c2c2"/><stop offset="1" stop-color="#d6d6d6"/></linearGradient><linearGradient id="t391" gradientUnits="userSpaceOnUse" x1="784.40" y1="274.31" x2="775.19" y2="311.20"><stop offset="0" stop-color="#c7c7c7"/><stop offset="1" stop-color="#dbdbdb"/></linearGradient><linearGradient id="t392" gradientUnits="userSpaceOnUse" x1="862.84" y1="274.31" x2="855.31" y2="312.00"><stop offset="0" stop-color="#bdbdbd"/><stop offset="1" stop-color="#d6d6d6"/></linearGradient><linearGradient id="t393" gradientUnits="userSpaceOnUse" x1="823.62" y1="274.31" x2="823.62" y2="313.50"><stop offset="0" stop-color="#c2c2c2"/><stop offset="1" stop-color="#d6d6d6"/></linearGradient><linearGradient id="t394" gradientUnits="userSpaceOnUse" x1="902.06" y1="274.31" x2="882.81" y2="297.56"><stop offset="0" stop-color="#737373"/><stop offset="1" stop-color="#cccccc"/></linearGradient><linearGradient id="t395" gradientUnits="userSpaceOnUse" x1="862.84" y1="274.31" x2="849.34" y2="308.10"><stop offset="0" stop-color="#bdbdbd"/><stop offset="1" stop-color="#d6d6d6"/></linearGradient><linearGradient id="t396" gradientUnits="userSpaceOnUse" x1="902.06" y1="274.31" x2="940.68" y2="269.48"><stop offset="0" stop-color="#737373"/><stop offset="1" stop-color="#878787"/></linearGradient><linearGradient id="t397" gradientUnits="userSpaceOnUse" x1="902.06" y1="274.31" x2="882.95" y2="298.22"><stop offset="0" stop-color="#737373"/><stop offset="1" stop-color="#cccccc"/></linearGradient><linearGradient id="t398" gradientUnits="userSpaceOnUse" x1="941.28" y1="274.31" x2="972.18" y2="258.28"><stop offset="0" stop-color="#878787"/><stop offset="1" stop-color="#cccccc"/></linearGradient><linearGradient id="t399" gradientUnits="userSpaceOnUse" x1="941.28" y1="313.50" x2="980.30" y2="310.71"><stop offset="0" stop-color="#858585"/><stop offset="1" stop-color="#a8a8a8"/></linearGradient></defs>
<g filter="url(#pl)" shape-rendering="crispEdges"><rect width="981" height="314" fill="#b0b0b0"/>
<polygon points="0.00,0.00 39.22,0.00 39.22,39.19" fill="url(#t0)"/><polygon points="0.00,0.00 0.00,39.19 39.22,39.19" fill="url(#t1)"/><polygon points="39.22,0.00 78.44,0.00 78.44,39.19" fill="url(#t2)"/><polygon points="39.22,0.00 39.22,39.19 78.44,39.19" fill="url(#t3)"/><polygon points="78.44,0.00 117.66,0.00 117.66,39.19" fill="url(#t4)"/><polygon points="78.44,0.00 78.44,39.19 117.66,39.19" fill="url(#t5)"/><polygon points="117.66,0.00 156.88,0.00 156.88,39.19" fill="url(#t6)"/><polygon points="117.66,0.00 117.66,39.19 156.88,39.19" fill="url(#t7)"/><polygon points="156.88,0.00 196.10,0.00 196.10,39.19" fill="url(#t8)"/><polygon points="156.88,0.00 156.88,39.19 196.10,39.19" fill="url(#t9)"/><polygon points="196.10,0.00 235.32,0.00 235.32,39.19" fill="url(#t10)"/><polygon points="196.10,0.00 196.10,39.19 235.32,39.19" fill="url(#t11)"/><polygon points="235.32,0.00 274.54,0.00 274.54,39.19" fill="url(#t12)"/><polygon points="235.32,0.00 235.32,39.19 274.54,39.19" fill="url(#t13)"/><polygon points="274.54,0.00 313.76,0.00 313.76,39.19" fill="url(#t14)"/><polygon points="274.54,0.00 274.54,39.19 313.76,39.19" fill="url(#t15)"/><polygon points="313.76,0.00 352.98,0.00 352.98,39.19" fill="url(#t16)"/><polygon points="313.76,0.00 313.76,39.19 352.98,39.19" fill="url(#t17)"/><polygon points="352.98,0.00 392.20,0.00 392.20,39.19" fill="url(#t18)"/><polygon points="352.98,0.00 352.98,39.19 392.20,39.19" fill="url(#t19)"/><polygon points="392.20,0.00 431.42,0.00 431.42,39.19" fill="url(#t20)"/><polygon points="392.20,0.00 392.20,39.19 431.42,39.19" fill="url(#t21)"/><polygon points="431.42,0.00 470.64,0.00 470.64,39.19" fill="url(#t22)"/><polygon points="431.42,0.00 431.42,39.19 470.64,39.19" fill="url(#t23)"/><polygon points="470.64,0.00 509.86,0.00 509.86,39.19" fill="url(#t24)"/><polygon points="470.64,0.00 470.64,39.19 509.86,39.19" fill="url(#t25)"/><polygon points="509.86,0.00 549.08,0.00 549.08,39.19" fill="url(#t26)"/><polygon points="509.86,0.00 509.86,39.19 549.08,39.19" fill="url(#t27)"/><polygon points="549.08,0.00 588.30,0.00 588.30,39.19" fill="url(#t28)"/><polygon points="549.08,0.00 549.08,39.19 588.30,39.19" fill="url(#t29)"/><polygon points="588.30,0.00 627.52,0.00 627.52,39.19" fill="url(#t30)"/><polygon points="588.30,0.00 588.30,39.19 627.52,39.19" fill="url(#t31)"/><polygon points="627.52,0.00 666.74,0.00 666.74,39.19" fill="url(#t32)"/><polygon points="627.52,0.00 627.52,39.19 666.74,39.19" fill="url(#t33)"/><polygon points="666.74,0.00 705.96,0.00 705.96,39.19" fill="url(#t34)"/><polygon points="666.74,0.00 666.74,39.19 705.96,39.19" fill="url(#t35)"/><polygon points="705.96,0.00 745.18,0.00 745.18,39.19" fill="url(#t36)"/><polygon points="705.96,0.00 705.96,39.19 745.18,39.19" fill="url(#t37)"/><polygon points="745.18,0.00 784.40,0.00 784.40,39.19" fill="url(#t38)"/><polygon points="745.18,0.00 745.18,39.19 784.40,39.19" fill="url(#t39)"/><polygon points="784.40,0.00 823.62,0.00 823.62,39.19" fill="url(#t40)"/><polygon points="784.40,0.00 784.40,39.19 823.62,39.19" fill="url(#t41)"/><polygon points="823.62,0.00 862.84,0.00 862.84,39.19" fill="url(#t42)"/><polygon points="823.62,0.00 823.62,39.19 862.84,39.19" fill="url(#t43)"/><polygon points="862.84,0.00 902.06,0.00 902.06,39.19" fill="url(#t44)"/><polygon points="862.84,0.00 862.84,39.19 902.06,39.19" fill="url(#t45)"/><polygon points="902.06,0.00 941.28,0.00 941.28,39.19" fill="url(#t46)"/><polygon points="902.06,0.00 902.06,39.19 941.28,39.19" fill="url(#t47)"/><polygon points="941.28,0.00 980.50,0.00 980.50,39.19" fill="url(#t48)"/><polygon points="941.28,0.00 941.28,39.19 980.50,39.19" fill="url(#t49)"/><polygon points="0.00,39.19 39.22,39.19 39.22,78.38" fill="url(#t50)"/><polygon points="0.00,39.19 0.00,78.38 39.22,78.38" fill="url(#t51)"/><polygon points="39.22,39.19 78.44,39.19 78.44,78.38" fill="url(#t52)"/><polygon points="39.22,39.19 39.22,78.38 78.44,78.38" fill="url(#t53)"/><polygon points="78.44,39.19 117.66,39.19 117.66,78.38" fill="url(#t54)"/><polygon points="78.44,39.19 78.44,78.38 117.66,78.38" fill="url(#t55)"/><polygon points="117.66,39.19 156.88,39.19 156.88,78.38" fill="url(#t56)"/><polygon points="117.66,39.19 117.66,78.38 156.88,78.38" fill="url(#t57)"/><polygon points="156.88,39.19 196.10,39.19 196.10,78.38" fill="url(#t58)"/><polygon points="156.88,39.19 156.88,78.38 196.10,78.38" fill="url(#t59)"/><polygon points="196.10,39.19 235.32,39.19 235.32,78.38" fill="url(#t60)"/><polygon points="196.10,39.19 196.10,78.38 235.32,78.38" fill="url(#t61)"/><polygon points="235.32,39.19 274.54,39.19 274.54,78.38" fill="url(#t62)"/><polygon points="235.32,39.19 235.32,78.38 274.54,78.38" fill="url(#t63)"/><polygon points="274.54,39.19 313.76,39.19 313.76,78.38" fill="url(#t64)"/><polygon points="274.54,39.19 274.54,78.38 313.76,78.38" fill="url(#t65)"/><polygon points="313.76,39.19 352.98,39.19 352.98,78.38" fill="url(#t66)"/><polygon points="313.76,39.19 313.76,78.38 352.98,78.38" fill="url(#t67)"/><polygon points="352.98,39.19 392.20,39.19 392.20,78.38" fill="url(#t68)"/><polygon points="352.98,39.19 352.98,78.38 392.20,78.38" fill="url(#t69)"/><polygon points="392.20,39.19 431.42,39.19 431.42,78.38" fill="url(#t70)"/><polygon points="392.20,39.19 392.20,78.38 431.42,78.38" fill="url(#t71)"/><polygon points="431.42,39.19 470.64,39.19 470.64,78.38" fill="url(#t72)"/><polygon points="431.42,39.19 431.42,78.38 470.64,78.38" fill="url(#t73)"/><polygon points="470.64,39.19 509.86,39.19 509.86,78.38" fill="url(#t74)"/><polygon points="470.64,39.19 470.64,78.38 509.86,78.38" fill="url(#t75)"/><polygon points="509.86,39.19 549.08,39.19 549.08,78.38" fill="url(#t76)"/><polygon points="509.86,39.19 509.86,78.38 549.08,78.38" fill="url(#t77)"/><polygon points="549.08,39.19 588.30,39.19 588.30,78.38" fill="url(#t78)"/><polygon points="549.08,39.19 549.08,78.38 588.30,78.38" fill="url(#t79)"/><polygon points="588.30,39.19 627.52,39.19 627.52,78.38" fill="url(#t80)"/><polygon points="588.30,39.19 588.30,78.38 627.52,78.38" fill="url(#t81)"/><polygon points="627.52,39.19 666.74,39.19 666.74,78.38" fill="url(#t82)"/><polygon points="627.52,39.19 627.52,78.38 666.74,78.38" fill="url(#t83)"/><polygon points="666.74,39.19 705.96,39.19 705.96,78.38" fill="url(#t84)"/><polygon points="666.74,39.19 666.74,78.38 705.96,78.38" fill="url(#t85)"/><polygon points="705.96,39.19 745.18,39.19 745.18,78.38" fill="url(#t86)"/><polygon points="705.96,39.19 705.96,78.38 745.18,78.38" fill="url(#t87)"/><polygon points="745.18,39.19 784.40,39.19 784.40,78.38" fill="url(#t88)"/><polygon points="745.18,39.19 745.18,78.38 784.40,78.38" fill="url(#t89)"/><polygon points="784.40,39.19 823.62,39.19 823.62,78.38" fill="url(#t90)"/><polygon points="784.40,39.19 784.40,78.38 823.62,78.38" fill="url(#t91)"/><polygon points="823.62,39.19 862.84,39.19 862.84,78.38" fill="url(#t92)"/><polygon points="823.62,39.19 823.62,78.38 862.84,78.38" fill="url(#t93)"/><polygon points="862.84,39.19 902.06,39.19 902.06,78.38" fill="url(#t94)"/><polygon points="862.84,39.19 862.84,78.38 902.06,78.38" fill="url(#t95)"/><polygon points="902.06,39.19 941.28,39.19 941.28,78.38" fill="url(#t96)"/><polygon points="902.06,39.19 902.06,78.38 941.28,78.38" fill="url(#t97)"/><polygon points="941.28,39.19 980.50,39.19 980.50,78.38" fill="url(#t98)"/><polygon points="941.28,39.19 941.28,78.38 980.50,78.38" fill="url(#t99)"/><polygon points="0.00,78.38 39.22,78.38 39.22,117.56" fill="url(#t100)"/><polygon points="0.00,78.38 0.00,117.56 39.22,117.56" fill="url(#t101)"/><polygon points="39.22,78.38 78.44,78.38 78.44,117.56" fill="url(#t102)"/><polygon points="39.22,78.38 39.22,117.56 78.44,117.56" fill="url(#t103)"/><polygon points="78.44,78.38 117.66,78.38 117.66,117.56" fill="url(#t104)"/><polygon points="78.44,78.38 78.44,117.56 117.66,117.56" fill="url(#t105)"/><polygon points="117.66,78.38 156.88,78.38 156.88,117.56" fill="url(#t106)"/><polygon points="117.66,78.38 117.66,117.56 156.88,117.56" fill="url(#t107)"/><polygon points="156.88,78.38 196.10,78.38 196.10,117.56" fill="url(#t108)"/><polygon points="156.88,78.38 156.88,117.56 196.10,117.56" fill="url(#t109)"/><polygon points="196.10,78.38 235.32,78.38 235.32,117.56" fill="url(#t110)"/><polygon points="196.10,78.38 196.10,117.56 235.32,117.56" fill="url(#t111)"/><polygon points="235.32,78.38 274.54,78.38 274.54,117.56" fill="url(#t112)"/><polygon points="235.32,78.38 235.32,117.56 274.54,117.56" fill="url(#t113)"/><polygon points="274.54,78.38 313.76,78.38 313.76,117.56" fill="url(#t114)"/><polygon points="274.54,78.38 274.54,117.56 313.76,117.56" fill="url(#t115)"/><polygon points="313.76,78.38 352.98,78.38 352.98,117.56" fill="url(#t116)"/><polygon points="313.76,78.38 313.76,117.56 352.98,117.56" fill="url(#t117)"/><polygon points="352.98,78.38 392.20,78.38 392.20,117.56" fill="url(#t118)"/><polygon points="352.98,78.38 352.98,117.56 392.20,117.56" fill="url(#t119)"/><polygon points="392.20,78.38 431.42,78.38 431.42,117.56" fill="url(#t120)"/><polygon points="392.20,78.38 392.20,117.56 431.42,117.56" fill="url(#t121)"/><polygon points="431.42,78.38 470.64,78.38 470.64,117.56" fill="url(#t122)"/><polygon points="431.42,78.38 431.42,117.56 470.64,117.56" fill="url(#t123)"/><polygon points="470.64,78.38 509.86,78.38 509.86,117.56" fill="url(#t124)"/><polygon points="470.64,78.38 470.64,117.56 509.86,117.56" fill="url(#t125)"/><polygon points="509.86,78.38 549.08,78.38 549.08,117.56" fill="url(#t126)"/><polygon points="509.86,78.38 509.86,117.56 549.08,117.56" fill="url(#t127)"/><polygon points="549.08,78.38 588.30,78.38 588.30,117.56" fill="url(#t128)"/><polygon points="549.08,78.38 549.08,117.56 588.30,117.56" fill="url(#t129)"/><polygon points="588.30,78.38 627.52,78.38 627.52,117.56" fill="url(#t130)"/><polygon points="588.30,78.38 588.30,117.56 627.52,117.56" fill="url(#t131)"/><polygon points="627.52,78.38 666.74,78.38 666.74,117.56" fill="url(#t132)"/><polygon points="627.52,78.38 627.52,117.56 666.74,117.56" fill="url(#t133)"/><polygon points="666.74,78.38 705.96,78.38 705.96,117.56" fill="url(#t134)"/><polygon points="666.74,78.38 666.74,117.56 705.96,117.56" fill="url(#t135)"/><polygon points="705.96,78.38 745.18,78.38 745.18,117.56" fill="url(#t136)"/><polygon points="705.96,78.38 705.96,117.56 745.18,117.56" fill="url(#t137)"/><polygon points="745.18,78.38 784.40,78.38 784.40,117.56" fill="url(#t138)"/><polygon points="745.18,78.38 745.18,117.56 784.40,117.56" fill="url(#t139)"/><polygon points="784.40,78.38 823.62,78.38 823.62,117.56" fill="url(#t140)"/><polygon points="784.40,78.38 784.40,117.56 823.62,117.56" fill="url(#t141)"/><polygon points="823.62,78.38 862.84,78.38 862.84,117.56" fill="url(#t142)"/><polygon points="823.62,78.38 823.62,117.56 862.84,117.56" fill="url(#t143)"/><polygon points="862.84,78.38 902.06,78.38 902.06,117.56" fill="url(#t144)"/><polygon points="862.84,78.38 862.84,117.56 902.06,117.56" fill="url(#t145)"/><polygon points="902.06,78.38 941.28,78.38 941.28,117.56" fill="url(#t146)"/><polygon points="902.06,78.38 902.06,117.56 941.28,117.56" fill="url(#t147)"/><polygon points="941.28,78.38 980.50,78.38 980.50,117.56" fill="url(#t148)"/><polygon points="941.28,78.38 941.28,117.56 980.50,117.56" fill="url(#t149)"/><polygon points="0.00,117.56 39.22,117.56 39.22,156.75" fill="url(#t150)"/><polygon points="0.00,117.56 0.00,156.75 39.22,156.75" fill="url(#t151)"/><polygon points="39.22,117.56 78.44,117.56 78.44,156.75" fill="url(#t152)"/><polygon points="39.22,117.56 39.22,156.75 78.44,156.75" fill="url(#t153)"/><polygon points="78.44,117.56 117.66,117.56 117.66,156.75" fill="url(#t154)"/><polygon points="78.44,117.56 78.44,156.75 117.66,156.75" fill="url(#t155)"/><polygon points="117.66,117.56 156.88,117.56 156.88,156.75" fill="url(#t156)"/><polygon points="117.66,117.56 117.66,156.75 156.88,156.75" fill="url(#t157)"/><polygon points="156.88,117.56 196.10,117.56 196.10,156.75" fill="url(#t158)"/><polygon points="156.88,117.56 156.88,156.75 196.10,156.75" fill="url(#t159)"/><polygon points="196.10,117.56 235.32,117.56 235.32,156.75" fill="url(#t160)"/><polygon points="196.10,117.56 196.10,156.75 235.32,156.75" fill="url(#t161)"/><polygon points="235.32,117.56 274.54,117.56 274.54,156.75" fill="url(#t162)"/><polygon points="235.32,117.56 235.32,156.75 274.54,156.75" fill="url(#t163)"/><polygon points="274.54,117.56 313.76,117.56 313.76,156.75" fill="url(#t164)"/><polygon points="274.54,117.56 274.54,156.75 313.76,156.75" fill="url(#t165)"/><polygon points="313.76,117.56 352.98,117.56 352.98,156.75" fill="url(#t166)"/><polygon points="313.76,117.56 313.76,156.75 352.98,156.75" fill="url(#t167)"/><polygon points="352.98,117.56 392.20,117.56 392.20,156.75" fill="url(#t168)"/><polygon points="352.98,117.56 352.98,156.75 392.20,156.75" fill="url(#t169)"/><polygon points="392.20,117.56 431.42,117.56 431.42,156.75" fill="url(#t170)"/><polygon points="392.20,117.56 392.20,156.75 431.42,156.75" fill="url(#t171)"/><polygon points="431.42,117.56 470.64,117.56 470.64,156.75" fill="url(#t172)"/><polygon points="431.42,117.56 431.42,156.75 470.64,156.75" fill="url(#t173)"/><polygon points="470.64,117.56 509.86,117.56 509.86,156.75" fill="url(#t174)"/><polygon points="470.64,117.56 470.64,156.75 509.86,156.75" fill="url(#t175)"/><polygon points="509.86,117.56 549.08,117.56 549.08,156.75" fill="url(#t176)"/><polygon points="509.86,117.56 509.86,156.75 549.08,156.75" fill="url(#t177)"/><polygon points="549.08,117.56 588.30,117.56 588.30,156.75" fill="#cccccc"/><polygon points="549.08,117.56 549.08,156.75 588.30,156.75" fill="url(#t179)"/><polygon points="588.30,117.56 627.52,117.56 627.52,156.75" fill="url(#t180)"/><polygon points="588.30,117.56 588.30,156.75 627.52,156.75" fill="url(#t181)"/><polygon points="627.52,117.56 666.74,117.56 666.74,156.75" fill="url(#t182)"/><polygon points="627.52,117.56 627.52,156.75 666.74,156.75" fill="url(#t183)"/><polygon points="666.74,117.56 705.96,117.56 705.96,156.75" fill="url(#t184)"/><polygon points="666.74,117.56 666.74,156.75 705.96,156.75" fill="url(#t185)"/><polygon points="705.96,117.56 745.18,117.56 745.18,156.75" fill="url(#t186)"/><polygon points="705.96,117.56 705.96,156.75 745.18,156.75" fill="url(#t187)"/><polygon points="745.18,117.56 784.40,117.56 784.40,156.75" fill="url(#t188)"/><polygon points="745.18,117.56 745.18,156.75 784.40,156.75" fill="url(#t189)"/><polygon points="784.40,117.56 823.62,117.56 823.62,156.75" fill="url(#t190)"/><polygon points="784.40,117.56 784.40,156.75 823.62,156.75" fill="url(#t191)"/><polygon points="823.62,117.56 862.84,117.56 862.84,156.75" fill="url(#t192)"/><polygon points="823.62,117.56 823.62,156.75 862.84,156.75" fill="url(#t193)"/><polygon points="862.84,117.56 902.06,117.56 902.06,156.75" fill="url(#t194)"/><polygon points="862.84,117.56 862.84,156.75 902.06,156.75" fill="url(#t195)"/><polygon points="902.06,117.56 941.28,117.56 941.28,156.75" fill="url(#t196)"/><polygon points="902.06,117.56 902.06,156.75 941.28,156.75" fill="url(#t197)"/><polygon points="941.28,117.56 980.50,117.56 980.50,156.75" fill="url(#t198)"/><polygon points="941.28,117.56 941.28,156.75 980.50,156.75" fill="url(#t199)"/><polygon points="0.00,156.75 39.22,156.75 39.22,195.94" fill="url(#t200)"/><polygon points="0.00,156.75 0.00,195.94 39.22,195.94" fill="url(#t201)"/><polygon points="39.22,156.75 78.44,156.75 78.44,195.94" fill="url(#t202)"/><polygon points="39.22,156.75 39.22,195.94 78.44,195.94" fill="url(#t203)"/><polygon points="78.44,156.75 117.66,156.75 117.66,195.94" fill="url(#t204)"/><polygon points="78.44,156.75 78.44,195.94 117.66,195.94" fill="url(#t205)"/><polygon points="117.66,156.75 156.88,156.75 156.88,195.94" fill="url(#t206)"/><polygon points="117.66,156.75 117.66,195.94 156.88,195.94" fill="url(#t207)"/><polygon points="156.88,156.75 196.10,156.75 196.10,195.94" fill="url(#t208)"/><polygon points="156.88,156.75 156.88,195.94 196.10,195.94" fill="url(#t209)"/><polygon points="196.10,156.75 235.32,156.75 235.32,195.94" fill="url(#t210)"/><polygon points="196.10,156.75 196.10,195.94 235.32,195.94" fill="url(#t211)"/><polygon points="235.32,156.75 274.54,156.75 274.54,195.94" fill="url(#t212)"/><polygon points="235.32,156.75 235.32,195.94 274.54,195.94" fill="url(#t213)"/><polygon points="274.54,156.75 313.76,156.75 313.76,195.94" fill="url(#t214)"/><polygon points="274.54,156.75 274.54,195.94 313.76,195.94" fill="url(#t215)"/><polygon points="313.76,156.75 352.98,156.75 352.98,195.94" fill="url(#t216)"/><polygon points="313.76,156.75 313.76,195.94 352.98,195.94" fill="url(#t217)"/><polygon points="352.98,156.75 392.20,156.75 392.20,195.94" fill="url(#t218)"/><polygon points="352.98,156.75 352.98,195.94 392.20,195.94" fill="url(#t219)"/><polygon points="392.20,156.75 431.42,156.75 431.42,195.94" fill="url(#t220)"/><polygon points="392.20,156.75 392.20,195.94 431.42,195.94" fill="url(#t221)"/><polygon points="431.42,156.75 470.64,156.75 470.64,195.94" fill="url(#t222)"/><polygon points="431.42,156.75 431.42,195.94 470.64,195.94" fill="url(#t223)"/><polygon points="470.64,156.75 509.86,156.75 509.86,195.94" fill="url(#t224)"/><polygon points="470.64,156.75 470.64,195.94 509.86,195.94" fill="url(#t225)"/><polygon points="509.86,156.75 549.08,156.75 549.08,195.94" fill="url(#t226)"/><polygon points="509.86,156.75 509.86,195.94 549.08,195.94" fill="url(#t227)"/><polygon points="549.08,156.75 588.30,156.75 588.30,195.94" fill="url(#t228)"/><polygon points="549.08,156.75 549.08,195.94 588.30,195.94" fill="url(#t229)"/><polygon points="588.30,156.75 627.52,156.75 627.52,195.94" fill="url(#t230)"/><polygon points="588.30,156.75 588.30,195.94 627.52,195.94" fill="url(#t231)"/><polygon points="627.52,156.75 666.74,156.75 666.74,195.94" fill="url(#t232)"/><polygon points="627.52,156.75 627.52,195.94 666.74,195.94" fill="url(#t233)"/><polygon points="666.74,156.75 705.96,156.75 705.96,195.94" fill="url(#t234)"/><polygon points="666.74,156.75 666.74,195.94 705.96,195.94" fill="url(#t235)"/><polygon points="705.96,156.75 745.18,156.75 745.18,195.94" fill="url(#t236)"/><polygon points="705.96,156.75 705.96,195.94 745.18,195.94" fill="url(#t237)"/><polygon points="745.18,156.75 784.40,156.75 784.40,195.94" fill="url(#t238)"/><polygon points="745.18,156.75 745.18,195.94 784.40,195.94" fill="url(#t239)"/><polygon points="784.40,156.75 823.62,156.75 823.62,195.94" fill="url(#t240)"/><polygon points="784.40,156.75 784.40,195.94 823.62,195.94" fill="url(#t241)"/><polygon points="823.62,156.75 862.84,156.75 862.84,195.94" fill="url(#t242)"/><polygon points="823.62,156.75 823.62,195.94 862.84,195.94" fill="url(#t243)"/><polygon points="862.84,156.75 902.06,156.75 902.06,195.94" fill="url(#t244)"/><polygon points="862.84,156.75 862.84,195.94 902.06,195.94" fill="url(#t245)"/><polygon points="902.06,156.75 941.28,156.75 941.28,195.94" fill="url(#t246)"/><polygon points="902.06,156.75 902.06,195.94 941.28,195.94" fill="url(#t247)"/><polygon points="941.28,156.75 980.50,156.75 980.50,195.94" fill="url(#t248)"/><polygon points="941.28,156.75 941.28,195.94 980.50,195.94" fill="url(#t249)"/><polygon points="0.00,195.94 39.22,195.94 39.22,235.12" fill="url(#t250)"/><polygon points="0.00,195.94 0.00,235.12 39.22,235.12" fill="url(#t251)"/><polygon points="39.22,195.94 78.44,195.94 78.44,235.12" fill="url(#t252)"/><polygon points="39.22,195.94 39.22,235.12 78.44,235.12" fill="url(#t253)"/><polygon points="78.44,195.94 117.66,195.94 117.66,235.12" fill="url(#t254)"/><polygon points="78.44,195.94 78.44,235.12 117.66,235.12" fill="url(#t255)"/><polygon points="117.66,195.94 156.88,195.94 156.88,235.12" fill="url(#t256)"/><polygon points="117.66,195.94 117.66,235.12 156.88,235.12" fill="url(#t257)"/><polygon points="156.88,195.94 196.10,195.94 196.10,235.12" fill="url(#t258)"/><polygon points="156.88,195.94 156.88,235.12 196.10,235.12" fill="url(#t259)"/><polygon points="196.10,195.94 235.32,195.94 235.32,235.12" fill="url(#t260)"/><polygon points="196.10,195.94 196.10,235.12 235.32,235.12" fill="url(#t261)"/><polygon points="235.32,195.94 274.54,195.94 274.54,235.12" fill="url(#t262)"/><polygon points="235.32,195.94 235.32,235.12 274.54,235.12" fill="url(#t263)"/><polygon points="274.54,195.94 313.76,195.94 313.76,235.12" fill="url(#t264)"/><polygon points="274.54,195.94 274.54,235.12 313.76,235.12" fill="url(#t265)"/><polygon points="313.76,195.94 352.98,195.94 352.98,235.12" fill="url(#t266)"/><polygon points="313.76,195.94 313.76,235.12 352.98,235.12" fill="url(#t267)"/><polygon points="352.98,195.94 392.20,195.94 392.20,235.12" fill="url(#t268)"/><polygon points="352.98,195.94 352.98,235.12 392.20,235.12" fill="url(#t269)"/><polygon points="392.20,195.94 431.42,195.94 431.42,235.12" fill="url(#t270)"/><polygon points="392.20,195.94 392.20,235.12 431.42,235.12" fill="url(#t271)"/><polygon points="431.42,195.94 470.64,195.94 470.64,235.12" fill="url(#t272)"/><polygon points="431.42,195.94 431.42,235.12 470.64,235.12" fill="url(#t273)"/><polygon points="470.64,195.94 509.86,195.94 509.86,235.12" fill="url(#t274)"/><polygon points="470.64,195.94 470.64,235.12 509.86,235.12" fill="url(#t275)"/><polygon points="509.86,195.94 549.08,195.94 549.08,235.12" fill="url(#t276)"/><polygon points="509.86,195.94 509.86,235.12 549.08,235.12" fill="url(#t277)"/><polygon points="549.08,195.94 588.30,195.94 588.30,235.12" fill="url(#t278)"/><polygon points="549.08,195.94 549.08,235.12 588.30,235.12" fill="url(#t279)"/><polygon points="588.30,195.94 627.52,195.94 627.52,235.12" fill="url(#t280)"/><polygon points="588.30,195.94 588.30,235.12 627.52,235.12" fill="url(#t281)"/><polygon points="627.52,195.94 666.74,195.94 666.74,235.12" fill="url(#t282)"/><polygon points="627.52,195.94 627.52,235.12 666.74,235.12" fill="url(#t283)"/><polygon points="666.74,195.94 705.96,195.94 705.96,235.12" fill="url(#t284)"/><polygon points="666.74,195.94 666.74,235.12 705.96,235.12" fill="url(#t285)"/><polygon points="705.96,195.94 745.18,195.94 745.18,235.12" fill="url(#t286)"/><polygon points="705.96,195.94 705.96,235.12 745.18,235.12" fill="url(#t287)"/><polygon points="745.18,195.94 784.40,195.94 784.40,235.12" fill="url(#t288)"/><polygon points="745.18,195.94 745.18,235.12 784.40,235.12" fill="url(#t289)"/><polygon points="784.40,195.94 823.62,195.94 823.62,235.12" fill="url(#t290)"/><polygon points="784.40,195.94 784.40,235.12 823.62,235.12" fill="url(#t291)"/><polygon points="823.62,195.94 862.84,195.94 862.84,235.12" fill="url(#t292)"/><polygon points="823.62,195.94 823.62,235.12 862.84,235.12" fill="url(#t293)"/><polygon points="862.84,195.94 902.06,195.94 902.06,235.12" fill="url(#t294)"/><polygon points="862.84,195.94 862.84,235.12 902.06,235.12" fill="url(#t295)"/><polygon points="902.06,195.94 941.28,195.94 941.28,235.12" fill="url(#t296)"/><polygon points="902.06,195.94 902.06,235.12 941.28,235.12" fill="url(#t297)"/><polygon points="941.28,195.94 980.50,195.94 980.50,235.12" fill="url(#t298)"/><polygon points="941.28,195.94 941.28,235.12 980.50,235.12" fill="url(#t299)"/><polygon points="0.00,235.12 39.22,235.12 39.22,274.31" fill="url(#t300)"/><polygon points="0.00,235.12 0.00,274.31 39.22,274.31" fill="url(#t301)"/><polygon points="39.22,235.12 78.44,235.12 78.44,274.31" fill="url(#t302)"/><polygon points="39.22,235.12 39.22,274.31 78.44,274.31" fill="#adadad"/><polygon points="78.44,235.12 117.66,235.12 117.66,274.31" fill="url(#t304)"/><polygon points="78.44,235.12 78.44,274.31 117.66,274.31" fill="url(#t305)"/><polygon points="117.66,235.12 156.88,235.12 156.88,274.31" fill="url(#t306)"/><polygon points="117.66,235.12 117.66,274.31 156.88,274.31" fill="url(#t307)"/><polygon points="156.88,235.12 196.10,235.12 196.10,274.31" fill="url(#t308)"/><polygon points="156.88,235.12 156.88,274.31 196.10,274.31" fill="url(#t309)"/><polygon points="196.10,235.12 235.32,235.12 235.32,274.31" fill="url(#t310)"/><polygon points="196.10,235.12 196.10,274.31 235.32,274.31" fill="url(#t311)"/><polygon points="235.32,235.12 274.54,235.12 274.54,274.31" fill="url(#t312)"/><polygon points="235.32,235.12 235.32,274.31 274.54,274.31" fill="url(#t313)"/><polygon points="274.54,235.12 313.76,235.12 313.76,274.31" fill="url(#t314)"/><polygon points="274.54,235.12 274.54,274.31 313.76,274.31" fill="url(#t315)"/><polygon points="313.76,235.12 352.98,235.12 352.98,274.31" fill="url(#t316)"/><polygon points="313.76,235.12 313.76,274.31 352.98,274.31" fill="url(#t317)"/><polygon points="352.98,235.12 392.20,235.12 392.20,274.31" fill="url(#t318)"/><polygon points="352.98,235.12 352.98,274.31 392.20,274.31" fill="url(#t319)"/><polygon points="392.20,235.12 431.42,235.12 431.42,274.31" fill="url(#t320)"/><polygon points="392.20,235.12 392.20,274.31 431.42,274.31" fill="url(#t321)"/><polygon points="431.42,235.12 470.64,235.12 470.64,274.31" fill="url(#t322)"/><polygon points="431.42,235.12 431.42,274.31 470.64,274.31" fill="url(#t323)"/><polygon points="470.64,235.12 509.86,235.12 509.86,274.31" fill="url(#t324)"/><polygon points="470.64,235.12 470.64,274.31 509.86,274.31" fill="url(#t325)"/><polygon points="509.86,235.12 549.08,235.12 549.08,274.31" fill="url(#t326)"/><polygon points="509.86,235.12 509.86,274.31 549.08,274.31" fill="url(#t327)"/><polygon points="549.08,235.12 588.30,235.12 588.30,274.31" fill="url(#t328)"/><polygon points="549.08,235.12 549.08,274.31 588.30,274.31" fill="url(#t329)"/><polygon points="588.30,235.12 627.52,235.12 627.52,274.31" fill="url(#t330)"/><polygon points="588.30,235.12 588.30,274.31 627.52,274.31" fill="url(#t331)"/><polygon points="627.52,235.12 666.74,235.12 666.74,274.31" fill="url(#t332)"/><polygon points="627.52,235.12 627.52,274.31 666.74,274.31" fill="url(#t333)"/><polygon points="666.74,235.12 705.96,235.12 705.96,274.31" fill="url(#t334)"/><polygon points="666.74,235.12 666.74,274.31 705.96,274.31" fill="url(#t335)"/><polygon points="705.96,235.12 745.18,235.12 745.18,274.31" fill="url(#t336)"/><polygon points="705.96,235.12 705.96,274.31 745.18,274.31" fill="url(#t337)"/><polygon points="745.18,235.12 784.40,235.12 784.40,274.31" fill="url(#t338)"/><polygon points="745.18,235.12 745.18,274.31 784.40,274.31" fill="url(#t339)"/><polygon points="784.40,235.12 823.62,235.12 823.62,274.31" fill="url(#t340)"/><polygon points="784.40,235.12 784.40,274.31 823.62,274.31" fill="url(#t341)"/><polygon points="823.62,235.12 862.84,235.12 862.84,274.31" fill="url(#t342)"/><polygon points="823.62,235.12 823.62,274.31 862.84,274.31" fill="url(#t343)"/><polygon points="862.84,235.12 902.06,235.12 902.06,274.31" fill="url(#t344)"/><polygon points="862.84,235.12 862.84,274.31 902.06,274.31" fill="url(#t345)"/><polygon points="902.06,235.12 941.28,235.12 941.28,274.31" fill="url(#t346)"/><polygon points="902.06,235.12 902.06,274.31 941.28,274.31" fill="url(#t347)"/><polygon points="941.28,235.12 980.50,235.12 980.50,274.31" fill="url(#t348)"/><polygon points="941.28,235.12 941.28,274.31 980.50,274.31" fill="url(#t349)"/><polygon points="0.00,274.31 39.22,274.31 39.22,313.50" fill="url(#t350)"/><polygon points="0.00,274.31 0.00,313.50 39.22,313.50" fill="url(#t351)"/><polygon points="39.22,274.31 78.44,274.31 78.44,313.50" fill="#adadad"/><polygon points="39.22,274.31 39.22,313.50 78.44,313.50" fill="url(#t353)"/><polygon points="78.44,274.31 117.66,274.31 117.66,313.50" fill="url(#t354)"/><polygon points="78.44,274.31 78.44,313.50 117.66,313.50" fill="#adadad"/><polygon points="117.66,274.31 156.88,274.31 156.88,313.50" fill="url(#t356)"/><polygon points="117.66,274.31 117.66,313.50 156.88,313.50" fill="url(#t357)"/><polygon points="156.88,274.31 196.10,274.31 196.10,313.50" fill="url(#t358)"/><polygon points="156.88,274.31 156.88,313.50 196.10,313.50" fill="url(#t359)"/><polygon points="196.10,274.31 235.32,274.31 235.32,313.50" fill="url(#t360)"/><polygon points="196.10,274.31 196.10,313.50 235.32,313.50" fill="url(#t361)"/><polygon points="235.32,274.31 274.54,274.31 274.54,313.50" fill="url(#t362)"/><polygon points="235.32,274.31 235.32,313.50 274.54,313.50" fill="url(#t363)"/><polygon points="274.54,274.31 313.76,274.31 313.76,313.50" fill="url(#t364)"/><polygon points="274.54,274.31 274.54,313.50 313.76,313.50" fill="url(#t365)"/><polygon points="313.76,274.31 352.98,274.31 352.98,313.50" fill="url(#t366)"/><polygon points="313.76,274.31 313.76,313.50 352.98,313.50" fill="url(#t367)"/><polygon points="352.98,274.31 392.20,274.31 392.20,313.50" fill="url(#t368)"/><polygon points="352.98,274.31 352.98,313.50 392.20,313.50" fill="url(#t369)"/><polygon points="392.20,274.31 431.42,274.31 431.42,313.50" fill="url(#t370)"/><polygon points="392.20,274.31 392.20,313.50 431.42,313.50" fill="url(#t371)"/><polygon points="431.42,274.31 470.64,274.31 470.64,313.50" fill="url(#t372)"/><polygon points="431.42,274.31 431.42,313.50 470.64,313.50" fill="url(#t373)"/><polygon points="470.64,274.31 509.86,274.31 509.86,313.50" fill="url(#t374)"/><polygon points="470.64,274.31 470.64,313.50 509.86,313.50" fill="url(#t375)"/><polygon points="509.86,274.31 549.08,274.31 549.08,313.50" fill="url(#t376)"/><polygon points="509.86,274.31 509.86,313.50 549.08,313.50" fill="url(#t377)"/><polygon points="549.08,274.31 588.30,274.31 588.30,313.50" fill="url(#t378)"/><polygon points="549.08,274.31 549.08,313.50 588.30,313.50" fill="url(#t379)"/><polygon points="588.30,274.31 627.52,274.31 627.52,313.50" fill="url(#t380)"/><polygon points="588.30,274.31 588.30,313.50 627.52,313.50" fill="url(#t381)"/><polygon points="627.52,274.31 666.74,274.31 666.74,313.50" fill="url(#t382)"/><polygon points="627.52,274.31 627.52,313.50 666.74,313.50" fill="url(#t383)"/><polygon points="666.74,274.31 705.96,274.31 705.96,313.50" fill="url(#t384)"/><polygon points="666.74,274.31 666.74,313.50 705.96,313.50" fill="url(#t385)"/><polygon points="705.96,274.31 745.18,274.31 745.18,313.50" fill="url(#t386)"/><polygon points="705.96,274.31 705.96,313.50 745.18,313.50" fill="url(#t387)"/><polygon points="745.18,274.31 784.40,274.31 784.40,313.50" fill="url(#t388)"/><polygon points="745.18,274.31 745.18,313.50 784.40,313.50" fill="url(#t389)"/><polygon points="784.40,274.31 823.62,274.31 823.62,313.50" fill="url(#t390)"/><polygon points="784.40,274.31 784.40,313.50 823.62,313.50" fill="url(#t391)"/><polygon points="823.62,274.31 862.84,274.31 862.84,313.50" fill="url(#t392)"/><polygon points="823.62,274.31 823.62,313.50 862.84,313.50" fill="url(#t393)"/><polygon points="862.84,274.31 902.06,274.31 902.06,313.50" fill="url(#t394)"/><polygon points="862.84,274.31 862.84,313.50 902.06,313.50" fill="url(#t395)"/><polygon points="902.06,274.31 941.28,274.31 941.28,313.50" fill="url(#t396)"/><polygon points="902.06,274.31 902.06,313.50 941.28,313.50" fill="url(#t397)"/><polygon points="941.28,274.31 980.50,274.31 980.50,313.50" fill="url(#t398)"/><polygon points="941.28,274.31 941.28,313.50 980.50,313.50" fill="url(#t399)"/>
</g></svg></div>
<div id="dock"></div>
<div class="tx" style="right:959.4px;top:328px;letter-spacing:-0.38px;">Crayfish Plot</div>
<div class="btn" style="left:-14px;width:152px;"></div>
<div class="btn" style="left:142px;width:126px;"></div>
<div class="btn" style="left:272px;width:124px;"></div>
<div class="btn on" style="left:404px;width:84px;"></div>
<div class="btn" style="left:492px;width:98px;"></div>
<div class="tx" style="right:894.3px;top:358.6px;letter-spacing:-0.25px;">Layer: indonesia_nc4</div>
<div class="tx" style="left:149.9px;top:358.6px;letter-spacing:-0.17px;">Plot: Time series</div>
<div class="tx" style="left:279.2px;top:358.6px;letter-spacing:0.1px;">Group: [current]</div>
<div class="tx" style="left:411.4px;top:358.6px;letter-spacing:-0.13px;">From map</div>
<div class="tx" style="left:510.1px;top:358.6px;letter-spacing:-0.16px;">From layer</div>
<div id="plot"></div>
<svg id="ov" width="1025" height="800" viewBox="0 0 1025 800">
<path d="M1003.6 335.0 L1005.9 337.3 L1003.6 339.6 L1001.3 337.3 Z" fill="none" stroke="#8a8a8a" stroke-width="0.8"/>
<circle cx="1016" cy="337.3" r="4.2" fill="#6e6e6e"/>
<path d="M1014.2 335.5 L1017.8 339.1 M1017.8 335.5 L1014.2 339.1" stroke="#f4f4f4" stroke-width="0.95" fill="none"/>
<path d="M499.5 368.5 l2 -2 M500.5 370 l1 -1" stroke="#b9c4d6" stroke-width="1" fill="none"/>
<path d="M1012 367.6 L1016.3 371.6" stroke="#b9b25a" stroke-width="1.7" stroke-linecap="round" fill="none"/>
<path d="M1010.2 365.2 L1011.8 367.2" stroke="#c9cdd2" stroke-width="2.2" stroke-linecap="round" fill="none"/>
<circle cx="1012.6" cy="368.2" r="0.9" fill="#54531f"/>
<line x1="53" y1="751.1" x2="1017" y2="751.1" stroke="#000" stroke-opacity="0.105" stroke-width="1.1"/>
<line x1="53" y1="714.6" x2="1017" y2="714.6" stroke="#000" stroke-opacity="0.105" stroke-width="1.1"/>
<line x1="53" y1="678.1" x2="1017" y2="678.1" stroke="#000" stroke-opacity="0.105" stroke-width="1.1"/>
<line x1="53" y1="641.6" x2="1017" y2="641.6" stroke="#000" stroke-opacity="0.105" stroke-width="1.1"/>
<line x1="53" y1="605.1" x2="1017" y2="605.1" stroke="#000" stroke-opacity="0.105" stroke-width="1.1"/>
<line x1="53" y1="568.6" x2="1017" y2="568.6" stroke="#000" stroke-opacity="0.105" stroke-width="1.1"/>
<line x1="53" y1="532.1" x2="1017" y2="532.1" stroke="#000" stroke-opacity="0.21" stroke-width="1.5"/>
<line x1="53" y1="495.6" x2="1017" y2="495.6" stroke="#000" stroke-opacity="0.105" stroke-width="1.1"/>
<line x1="53" y1="459.1" x2="1017" y2="459.1" stroke="#000" stroke-opacity="0.105" stroke-width="1.1"/>
<line x1="53" y1="422.6" x2="1017" y2="422.6" stroke="#000" stroke-opacity="0.105" stroke-width="1.1"/>
<line x1="111.6" y1="393" x2="111.6" y2="766" stroke="#000" stroke-opacity="0.125" stroke-width="1.15"/>
<line x1="239.2" y1="393" x2="239.2" y2="766" stroke="#000" stroke-opacity="0.125" stroke-width="1.15"/>
<line x1="366.7" y1="393" x2="366.7" y2="766" stroke="#000" stroke-opacity="0.125" stroke-width="1.15"/>
<line x1="494.3" y1="393" x2="494.3" y2="766" stroke="#000" stroke-opacity="0.125" stroke-width="1.15"/>
<line x1="621.8" y1="393" x2="621.8" y2="766" stroke="#000" stroke-opacity="0.125" stroke-width="1.15"/>
<line x1="749.4" y1="393" x2="749.4" y2="766" stroke="#000" stroke-opacity="0.125" stroke-width="1.15"/>
<line x1="877.0" y1="393" x2="877.0" y2="766" stroke="#000" stroke-opacity="0.125" stroke-width="1.15"/>
<line x1="1004.5" y1="393" x2="1004.5" y2="766" stroke="#000" stroke-opacity="0.125" stroke-width="1.15"/>
<polyline points="75.1,596.6 105.7,615.6 136.4,641.9 167.0,580.0 197.7,567.7 228.3,476.5 258.9,504.8 289.6,407.2 320.2,463.5 350.9,510.6 381.5,449.2 412.1,504.8 442.8,524.3 473.4,454.3 504.1,465.6 534.7,500.0 565.3,572.1 596.0,530.1 626.6,502.8 657.3,508.6 687.9,459.4 718.5,456.4 749.2,572.1 779.8,534.9 810.5,542.7 841.1,486.1 871.7,514.1 902.4,560.8 933.0,588.0 963.7,610.8 994.3,501.1" fill="none" stroke="#f0923a" stroke-width="1.35" stroke-linejoin="miter"/>
<polyline points="75.1,571.8 105.7,594.6 136.4,494.9 167.0,494.9 197.7,487.1 228.3,498.3 258.9,498.0 289.6,426.2 320.2,499.0 350.9,572.1 381.5,570.4 412.1,559.8 442.8,631.0 473.4,622.8 504.1,565.6 534.7,558.4 565.3,574.8 596.0,723.5 626.6,625.8 657.3,585.4 687.9,635.2 718.5,573.8 749.2,525.7 779.8,558.4 810.5,515.4 841.1,493.2 871.7,630.6 902.4,607.1 933.0,539.0 963.7,544.4 994.3,527.0" fill="none" stroke="#4aa24a" stroke-width="1.35" stroke-linejoin="miter"/>
<polyline points="75.1,642.2 105.7,707.1 136.4,649.7 167.0,678.4 197.7,693.4 228.3,627.2 258.9,659.6 289.6,610.8 320.2,637.8 350.9,662.4 381.5,592.7 412.1,623.1 442.8,656.6 473.4,690.4 504.1,684.9 534.7,695.5 565.3,639.5 596.0,684.4 626.6,729.3 657.3,702.0 687.9,676.0 718.5,637.5 749.2,672.6 779.8,603.7 810.5,649.1 841.1,667.5 871.7,605.4 902.4,651.5 933.0,716.3 963.7,692.1 994.3,691.7" fill="none" stroke="#3b84ba" stroke-width="1.35" stroke-linejoin="miter"/>
<polyline points="75.1,661.0 105.7,657.6 136.4,601.6 167.0,625.5 197.7,616.6 228.3,611.5 258.9,623.1 289.6,630.3 320.2,649.4 350.9,695.2 381.5,730.0 412.1,665.5 442.8,715.0 473.4,748.1 504.1,672.6 534.7,662.4 565.3,620.0 596.0,736.8 626.6,751.8 657.3,635.1 687.9,713.0 718.5,691.4 749.2,669.2 779.8,687.6 810.5,746.0 841.1,656.9 871.7,702.3 902.4,582.7 933.0,631.0 963.7,684.6 994.3,602.6" fill="none" stroke="#d23c3e" stroke-width="1.35" stroke-linejoin="miter"/>
<line x1="52.6" y1="393" x2="52.6" y2="766.8" stroke="#7c7c7c" stroke-width="1.2"/>
<line x1="52" y1="766.3" x2="1017" y2="766.3" stroke="#767676" stroke-width="1.1"/>
<text class="tl" x="50.1" y="757.2" text-anchor="end" textLength="32.0" lengthAdjust="spacingAndGlyphs">8000</text>
<text class="tl" x="50.1" y="720.7" text-anchor="end" textLength="40.0" lengthAdjust="spacingAndGlyphs">10000</text>
<text class="tl" x="50.1" y="684.2" text-anchor="end" textLength="40.0" lengthAdjust="spacingAndGlyphs">12000</text>
<text class="tl" x="50.1" y="647.7" text-anchor="end" textLength="40.0" lengthAdjust="spacingAndGlyphs">14000</text>
<text class="tl" x="50.1" y="611.2" text-anchor="end" textLength="40.0" lengthAdjust="spacingAndGlyphs">16000</text>
<text class="tl" x="50.1" y="574.7" text-anchor="end" textLength="40.0" lengthAdjust="spacingAndGlyphs">18000</text>
<text class="tl" x="50.1" y="538.2" text-anchor="end" textLength="40.0" lengthAdjust="spacingAndGlyphs">20000</text>
<text class="tl" x="50.1" y="501.7" text-anchor="end" textLength="40.0" lengthAdjust="spacingAndGlyphs">22000</text>
<text class="tl" x="50.1" y="465.2" text-anchor="end" textLength="40.0" lengthAdjust="spacingAndGlyphs">24000</text>
<text class="tl" x="50.1" y="428.7" text-anchor="end" textLength="40.0" lengthAdjust="spacingAndGlyphs">26000</text>
<clipPath id="cx"><rect x="0" y="760" width="1017.3" height="40"/></clipPath><g clip-path="url(#cx)">
<text class="tl" x="110.8" y="781.3" text-anchor="middle" textLength="42.7" lengthAdjust="spacingAndGlyphs">1.0081</text>
<text class="tl" x="238.4" y="781.3" text-anchor="middle" textLength="42.7" lengthAdjust="spacingAndGlyphs">1.0082</text>
<text class="tl" x="365.9" y="781.3" text-anchor="middle" textLength="42.7" lengthAdjust="spacingAndGlyphs">1.0083</text>
<text class="tl" x="493.5" y="781.3" text-anchor="middle" textLength="42.7" lengthAdjust="spacingAndGlyphs">1.0084</text>
<text class="tl" x="621.0" y="781.3" text-anchor="middle" textLength="42.7" lengthAdjust="spacingAndGlyphs">1.0085</text>
<text class="tl" x="748.6" y="781.3" text-anchor="middle" textLength="42.7" lengthAdjust="spacingAndGlyphs">1.0086</text>
<text class="tl" x="876.2" y="781.3" text-anchor="middle" textLength="42.7" lengthAdjust="spacingAndGlyphs">1.0087</text>
<text class="tl" x="1003.7" y="781.3" text-anchor="middle" textLength="42.7" lengthAdjust="spacingAndGlyphs">1.0088</text>
</g>
<text class="tl" x="534.9" y="798.2" text-anchor="middle" textLength="116.6" lengthAdjust="spacingAndGlyphs">Time [h] (x1e+06)</text>
<text transform="translate(0.4,582.5) rotate(-90)" text-anchor="middle" textLength="143" lengthAdjust="spacingAndGlyphs" style="font-size:15.3px" fill="#2a64a8">Surface temperature</text>
<line x1="0" y1="568.4" x2="3.6" y2="568.4" stroke="#3c4450" stroke-width="1.2"/>
<rect x="1020" y="388" width="3" height="412" fill="#f1f1f1"/>
<path d="M431.8 114.3 L437.0 119.5 M437.0 114.3 L431.8 119.5" stroke="#d42a1e" stroke-width="1.05" fill="none"/>
<path d="M475.3 162.1 L480.5 167.3 M480.5 162.1 L475.3 167.3" stroke="#3f9a2c" stroke-width="1.05" fill="none"/>
<path d="M386.5 186.1 L391.7 191.3 M391.7 186.1 L386.5 191.3" stroke="#2f78b4" stroke-width="1.05" fill="none"/>
<path d="M532.3 260.8 L537.5 266.0 M537.5 260.8 L532.3 266.0" stroke="#f5851a" stroke-width="1.05" fill="none"/>
</svg>
</body></html>
